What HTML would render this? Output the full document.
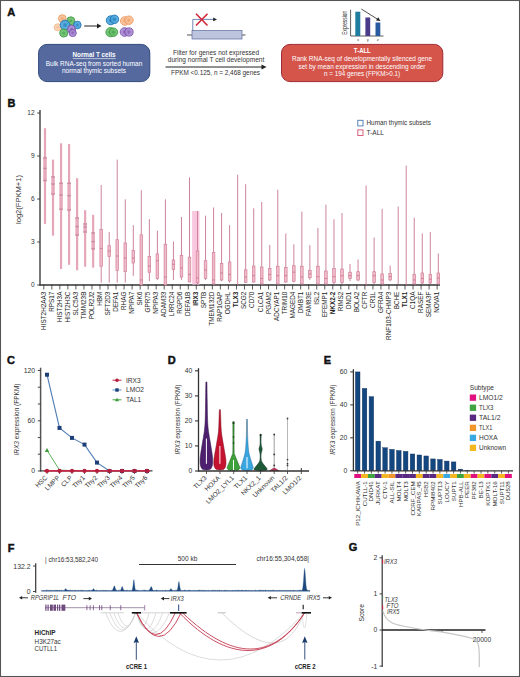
<!DOCTYPE html>
<html><head><meta charset="utf-8"><style>html,body{margin:0;padding:0;background:#fff}svg{display:block}</style></head>
<body><svg width="520" height="677" viewBox="0 0 520 677" font-family="Liberation Sans, sans-serif"><g>
<rect x="0.5" y="0.5" width="519" height="676" fill="#fff" stroke="#555" stroke-width="1.1"/>
<text x="7.2" y="16.2" font-size="11" text-anchor="start" fill="#111" font-weight="bold" font-style="normal" stroke="#111" stroke-width="0.45">A</text>
<circle cx="62.3" cy="18.5" r="3.8" fill="#f7bf95" stroke="#ef9a62" stroke-width="1" opacity="0.92"/>
<circle cx="62.3" cy="18.5" r="1.52" fill="#ef9a62" opacity="0.55"/>
<circle cx="57.7" cy="27.3" r="3.5" fill="#fad0b0" stroke="#f2b080" stroke-width="1" opacity="0.85"/>
<circle cx="57.7" cy="27.3" r="1.40" fill="#f2b080" opacity="0.55"/>
<circle cx="70.8" cy="20.8" r="4" fill="#6cc06c" stroke="#3d9a45" stroke-width="1" opacity="0.92"/>
<circle cx="70.8" cy="20.8" r="1.60" fill="#3d9a45" opacity="0.55"/>
<circle cx="77.3" cy="25" r="3.8" fill="#4aa6dc" stroke="#1f74b5" stroke-width="1" opacity="0.92"/>
<circle cx="77.3" cy="25" r="1.52" fill="#1f74b5" opacity="0.55"/>
<circle cx="65" cy="25" r="4.8" fill="#4aa6dc" stroke="#1f74b5" stroke-width="1" opacity="0.92"/>
<circle cx="65" cy="25" r="1.92" fill="#1f74b5" opacity="0.55"/>
<circle cx="63.8" cy="33" r="4" fill="#6cc06c" stroke="#3d9a45" stroke-width="1" opacity="0.92"/>
<circle cx="63.8" cy="33" r="1.60" fill="#3d9a45" opacity="0.55"/>
<circle cx="71.5" cy="29.2" r="4" fill="#a98ad0" stroke="#7a52b0" stroke-width="1" opacity="0.92"/>
<circle cx="71.5" cy="29.2" r="1.60" fill="#7a52b0" opacity="0.55"/>
<circle cx="72.7" cy="33" r="3.6" fill="#a98ad0" stroke="#7a52b0" stroke-width="1" opacity="0.92"/>
<circle cx="72.7" cy="33" r="1.44" fill="#7a52b0" opacity="0.55"/>
<line x1="84.2" y1="26" x2="99" y2="26" stroke="#222" stroke-width="1"/>
<path d="M101.5 26 L97 23.6 L97 28.4 Z" fill="#222"/>
<circle cx="110.8" cy="20.3" r="4.5" fill="#4aa6dc" stroke="#1f74b5" stroke-width="1" opacity="0.92"/>
<circle cx="110.8" cy="20.3" r="1.80" fill="#1f74b5" opacity="0.55"/>
<circle cx="114.5" cy="19.3" r="4.2" fill="#4aa6dc" stroke="#1f74b5" stroke-width="1" opacity="0.92"/>
<circle cx="114.5" cy="19.3" r="1.68" fill="#1f74b5" opacity="0.55"/>
<circle cx="124.8" cy="21" r="4.3" fill="#f7bf95" stroke="#ef9a62" stroke-width="1" opacity="0.92"/>
<circle cx="124.8" cy="21" r="1.72" fill="#ef9a62" opacity="0.55"/>
<circle cx="129" cy="20.2" r="4.2" fill="#f7bf95" stroke="#ef9a62" stroke-width="1" opacity="0.92"/>
<circle cx="129" cy="20.2" r="1.68" fill="#ef9a62" opacity="0.55"/>
<circle cx="110.5" cy="32.2" r="4.6" fill="#6cc06c" stroke="#3d9a45" stroke-width="1" opacity="0.92"/>
<circle cx="110.5" cy="32.2" r="1.84" fill="#3d9a45" opacity="0.55"/>
<circle cx="113.5" cy="32.2" r="4.2" fill="#6cc06c" stroke="#3d9a45" stroke-width="1" opacity="0.92"/>
<circle cx="113.5" cy="32.2" r="1.68" fill="#3d9a45" opacity="0.55"/>
<circle cx="124.5" cy="32" r="4.3" fill="#a98ad0" stroke="#7a52b0" stroke-width="1" opacity="0.92"/>
<circle cx="124.5" cy="32" r="1.72" fill="#7a52b0" opacity="0.55"/>
<circle cx="129" cy="32" r="4.1" fill="#a98ad0" stroke="#7a52b0" stroke-width="1" opacity="0.92"/>
<circle cx="129" cy="32" r="1.64" fill="#7a52b0" opacity="0.55"/>
<rect x="38.6" y="44.4" width="111.2" height="37.2" rx="8.5" fill="#55699f" stroke="#2f4a7c" stroke-width="1"/>
<text x="94" y="57.4" font-size="6.8" text-anchor="middle" fill="#fff" font-weight="bold" font-style="normal" textLength="43" lengthAdjust="spacingAndGlyphs">Normal T cells</text>
<line x1="72.8" y1="58.6" x2="115.8" y2="58.6" stroke="#fff" stroke-width="0.6"/>
<text x="94" y="65.5" font-size="6.6" text-anchor="middle" fill="#fff" font-weight="normal" font-style="normal" textLength="96.5" lengthAdjust="spacingAndGlyphs">Bulk RNA-seq from sorted human</text>
<text x="94" y="72.9" font-size="6.6" text-anchor="middle" fill="#fff" font-weight="normal" font-style="normal" textLength="64" lengthAdjust="spacingAndGlyphs">normal thymic subsets</text>
<line x1="187" y1="35" x2="245.5" y2="35" stroke="#555" stroke-width="1"/>
<rect x="192" y="30.6" width="50" height="8.4" fill="#bcc4de" stroke="#5a6a9a" stroke-width="0.7"/>
<polyline points="192.8,30.5 192.8,19.4 214,19.4" fill="none" stroke="#4a6aa0" stroke-width="0.8"/>
<path d="M217 19.4 L213.2 17.6 L213.2 21.2 Z" fill="#222"/>
<path d="M196 13.8 L207.5 25.5 M207.5 13.8 L196 25.5" stroke="#d0283a" stroke-width="1.6"/>
<text x="216" y="54.6" font-size="6.4" text-anchor="middle" fill="#333" font-weight="normal" font-style="normal" textLength="86" lengthAdjust="spacingAndGlyphs">Filter for genes not expressed</text>
<text x="216" y="62.2" font-size="6.4" text-anchor="middle" fill="#333" font-weight="normal" font-style="normal" textLength="96.5" lengthAdjust="spacingAndGlyphs">during normal T cell development</text>
<line x1="165.5" y1="67" x2="263" y2="67" stroke="#222" stroke-width="1"/>
<path d="M266.5 67 L261.5 64.6 L261.5 69.4 Z" fill="#222"/>
<text x="215.5" y="75.2" font-size="6.4" text-anchor="middle" fill="#333" font-weight="normal" font-style="normal" textLength="89" lengthAdjust="spacingAndGlyphs">FPKM &lt;0.125, n = 2,468 genes</text>
<text x="346.9" y="22.8" font-size="7" text-anchor="middle" fill="#333" font-weight="normal" font-style="normal" textLength="23.8" lengthAdjust="spacingAndGlyphs" transform="rotate(-90 346.9 22.8)">Expression</text>
<polyline points="350.6,9.7 350.6,36 383.5,36" fill="none" stroke="#333" stroke-width="0.8"/>
<rect x="355.3" y="11.7" width="5" height="24.3" fill="#1f7ea0"/>
<rect x="365.4" y="17.5" width="4.8" height="18.5" fill="#4a3a8a"/>
<rect x="375.5" y="22.5" width="4.8" height="13.5" fill="#2a5aa0"/>
<line x1="361.3" y1="9" x2="378" y2="19.5" stroke="#222" stroke-width="0.8"/>
<path d="M380.5 21 L376 20.4 L378.2 17.2 Z" fill="#222"/>
<text x="358" y="41.2" font-size="4.2" text-anchor="middle" fill="#444" font-weight="normal" font-style="normal">x</text>
<text x="367.7" y="41.2" font-size="4.2" text-anchor="middle" fill="#444" font-weight="normal" font-style="normal">y</text>
<text x="377.8" y="41.2" font-size="4.2" text-anchor="middle" fill="#444" font-weight="normal" font-style="normal">z</text>
<rect x="281.5" y="44.4" width="161.3" height="37.2" rx="8.5" fill="#d5554b" stroke="#9e2c36" stroke-width="1"/>
<text x="362.3" y="53.3" font-size="6.8" text-anchor="middle" fill="#fff" font-weight="bold" font-style="normal" textLength="17" lengthAdjust="spacingAndGlyphs">T-ALL</text>
<text x="362" y="61.4" font-size="6.6" text-anchor="middle" fill="#fff" font-weight="normal" font-style="normal" textLength="140" lengthAdjust="spacingAndGlyphs">Rank RNA-seq of developmentally silenced gene</text>
<text x="362" y="68.8" font-size="6.6" text-anchor="middle" fill="#fff" font-weight="normal" font-style="normal" textLength="127" lengthAdjust="spacingAndGlyphs">set by mean expression in descending order</text>
<text x="362" y="75.8" font-size="6.6" text-anchor="middle" fill="#fff" font-weight="normal" font-style="normal" textLength="76" lengthAdjust="spacingAndGlyphs">n = 194 genes (FPKM&gt;0.1)</text>
<text x="7.5" y="107.2" font-size="11" text-anchor="start" fill="#111" font-weight="bold" font-style="normal" stroke="#111" stroke-width="0.45">B</text>
<line x1="40" y1="110" x2="40" y2="285.6" stroke="#555" stroke-width="1.6"/>
<line x1="37.2" y1="285.0" x2="40" y2="285.0" stroke="#333" stroke-width="0.9"/>
<text x="34.6" y="287.3" font-size="6.6" text-anchor="end" fill="#333" font-weight="normal" font-style="normal">0</text>
<line x1="37.2" y1="242.0" x2="40" y2="242.0" stroke="#333" stroke-width="0.9"/>
<text x="34.6" y="244.30100000000002" font-size="6.6" text-anchor="end" fill="#333" font-weight="normal" font-style="normal">3</text>
<line x1="37.2" y1="199.0" x2="40" y2="199.0" stroke="#333" stroke-width="0.9"/>
<text x="34.6" y="201.30200000000002" font-size="6.6" text-anchor="end" fill="#333" font-weight="normal" font-style="normal">6</text>
<line x1="37.2" y1="156.0" x2="40" y2="156.0" stroke="#333" stroke-width="0.9"/>
<text x="34.6" y="158.303" font-size="6.6" text-anchor="end" fill="#333" font-weight="normal" font-style="normal">9</text>
<line x1="37.2" y1="113.0" x2="40" y2="113.0" stroke="#333" stroke-width="0.9"/>
<text x="34.6" y="115.30399999999999" font-size="6.6" text-anchor="end" fill="#333" font-weight="normal" font-style="normal">12</text>
<text x="21.2" y="199.5" font-size="7.2" text-anchor="middle" fill="#333" font-weight="normal" font-style="normal" textLength="49" lengthAdjust="spacingAndGlyphs" transform="rotate(-90 21.2 199.5)">log2(FPKM+1)</text>
<line x1="39.5" y1="285" x2="440" y2="285" stroke="#333" stroke-width="1.3"/>
<rect x="192.1" y="211" width="7.4" height="73.5" fill="#f9c8df"/>
<line x1="43.80" y1="284.5" x2="43.80" y2="289.5" stroke="#333" stroke-width="0.8"/>
<line x1="45.00" y1="128.2" x2="45.00" y2="223.9" stroke="#e6a6b8" stroke-width="2.2"/>
<rect x="43.30" y="156.9" width="3.4" height="24.6" fill="#e6a9bb"/>
<rect x="43.30" y="157.2" width="3.4" height="1.4" fill="#c98aa0"/>
<rect x="43.30" y="167.7" width="3.4" height="1.4" fill="#c98aa0"/>
<rect x="43.30" y="179.8" width="3.4" height="1.4" fill="#c98aa0"/>
<text x="45.80" y="291.6" font-size="6.4" text-anchor="end" fill="#222" font-weight="normal" font-style="normal" transform="rotate(-90 45.80 291.6)">HIST2H2AA3</text>
<line x1="51.83" y1="284.5" x2="51.83" y2="289.5" stroke="#333" stroke-width="0.8"/>
<line x1="53.03" y1="159.6" x2="53.03" y2="235.6" stroke="#e6a6b8" stroke-width="2.2"/>
<rect x="51.33" y="176" width="3.4" height="19.0" fill="#e6a9bb"/>
<rect x="51.33" y="176.3" width="3.4" height="1.4" fill="#c98aa0"/>
<rect x="51.33" y="183.3" width="3.4" height="1.4" fill="#c98aa0"/>
<rect x="51.33" y="193.3" width="3.4" height="1.4" fill="#c98aa0"/>
<text x="53.83" y="291.6" font-size="6.4" text-anchor="end" fill="#222" font-weight="normal" font-style="normal" transform="rotate(-90 53.83 291.6)">RPS17</text>
<line x1="59.85" y1="284.5" x2="59.85" y2="289.5" stroke="#333" stroke-width="0.8"/>
<line x1="61.05" y1="143.3" x2="61.05" y2="269" stroke="#e6a6b8" stroke-width="2.2"/>
<rect x="59.35" y="182.3" width="3.4" height="27.9" fill="#e6a9bb"/>
<rect x="59.35" y="182.6" width="3.4" height="1.4" fill="#c98aa0"/>
<rect x="59.35" y="194.3" width="3.4" height="1.4" fill="#c98aa0"/>
<rect x="59.35" y="208.5" width="3.4" height="1.4" fill="#c98aa0"/>
<text x="61.85" y="291.6" font-size="6.4" text-anchor="end" fill="#222" font-weight="normal" font-style="normal" transform="rotate(-90 61.85 291.6)">HIST2H3A</text>
<line x1="67.88" y1="284.5" x2="67.88" y2="289.5" stroke="#333" stroke-width="0.8"/>
<line x1="69.08" y1="144" x2="69.08" y2="264.8" stroke="#e6a6b8" stroke-width="2.2"/>
<rect x="67.38" y="182.3" width="3.4" height="28.7" fill="#e6a9bb"/>
<rect x="67.38" y="182.6" width="3.4" height="1.4" fill="#c98aa0"/>
<rect x="67.38" y="195.0" width="3.4" height="1.4" fill="#c98aa0"/>
<rect x="67.38" y="209.3" width="3.4" height="1.4" fill="#c98aa0"/>
<text x="69.88" y="291.6" font-size="6.4" text-anchor="end" fill="#222" font-weight="normal" font-style="normal" transform="rotate(-90 69.88 291.6)">HIST2H3C</text>
<line x1="75.91" y1="284.5" x2="75.91" y2="289.5" stroke="#333" stroke-width="0.8"/>
<line x1="77.11" y1="178.2" x2="77.11" y2="270.3" stroke="#e6a6b8" stroke-width="2.2"/>
<rect x="75.41" y="217" width="3.4" height="19.0" fill="#e6a9bb"/>
<rect x="75.41" y="217.3" width="3.4" height="1.4" fill="#c98aa0"/>
<rect x="75.41" y="225.9" width="3.4" height="1.4" fill="#c98aa0"/>
<rect x="75.41" y="234.3" width="3.4" height="1.4" fill="#c98aa0"/>
<text x="77.91" y="291.6" font-size="6.4" text-anchor="end" fill="#222" font-weight="normal" font-style="normal" transform="rotate(-90 77.91 291.6)">SLC5A3</text>
<line x1="83.94" y1="284.5" x2="83.94" y2="289.5" stroke="#333" stroke-width="0.8"/>
<line x1="85.14" y1="210.2" x2="85.14" y2="266.7" stroke="#e6a6b8" stroke-width="2.2"/>
<rect x="83.44" y="223" width="3.4" height="9.9" fill="#e6a9bb"/>
<rect x="83.44" y="223.3" width="3.4" height="1.4" fill="#c98aa0"/>
<rect x="83.44" y="226.3" width="3.4" height="1.4" fill="#c98aa0"/>
<rect x="83.44" y="231.2" width="3.4" height="1.4" fill="#c98aa0"/>
<text x="85.94" y="291.6" font-size="6.4" text-anchor="end" fill="#222" font-weight="normal" font-style="normal" transform="rotate(-90 85.94 291.6)">TIMM23B</text>
<line x1="91.96" y1="284.5" x2="91.96" y2="289.5" stroke="#333" stroke-width="0.8"/>
<line x1="93.16" y1="214.8" x2="93.16" y2="267.6" stroke="#e6a6b8" stroke-width="2.2"/>
<rect x="91.46" y="232" width="3.4" height="17.8" fill="#e6a9bb"/>
<rect x="91.46" y="232.3" width="3.4" height="1.4" fill="#c98aa0"/>
<rect x="91.46" y="240.9" width="3.4" height="1.4" fill="#c98aa0"/>
<rect x="91.46" y="248.1" width="3.4" height="1.4" fill="#c98aa0"/>
<text x="93.96" y="291.6" font-size="6.4" text-anchor="end" fill="#222" font-weight="normal" font-style="normal" transform="rotate(-90 93.96 291.6)">POLR2J2</text>
<line x1="99.99" y1="284.5" x2="99.99" y2="289.5" stroke="#333" stroke-width="0.8"/>
<line x1="101.19" y1="185" x2="101.19" y2="282.6" stroke="#c97d99" stroke-width="0.95"/>
<rect x="99.89" y="229.3" width="2.6" height="36.9" fill="#f0bccb" stroke="#d27f97" stroke-width="0.7"/>
<line x1="99.89" y1="248.4" x2="102.49" y2="248.4" stroke="#c8708a" stroke-width="0.8"/>
<text x="101.99" y="291.6" font-size="6.4" text-anchor="end" fill="#222" font-weight="normal" font-style="normal" transform="rotate(-90 101.99 291.6)">HBM</text>
<line x1="108.02" y1="284.5" x2="108.02" y2="289.5" stroke="#333" stroke-width="0.8"/>
<line x1="109.22" y1="232" x2="109.22" y2="282.6" stroke="#c97d99" stroke-width="0.95"/>
<rect x="107.92" y="245.7" width="2.6" height="10.9" fill="#f0bccb" stroke="#d27f97" stroke-width="0.7"/>
<line x1="107.92" y1="251" x2="110.52" y2="251" stroke="#c8708a" stroke-width="0.8"/>
<text x="110.02" y="291.6" font-size="6.4" text-anchor="end" fill="#222" font-weight="normal" font-style="normal" transform="rotate(-90 110.02 291.6)">SFT2D3</text>
<line x1="116.04" y1="284.5" x2="116.04" y2="289.5" stroke="#333" stroke-width="0.8"/>
<line x1="117.24" y1="159.6" x2="117.24" y2="282.6" stroke="#c97d99" stroke-width="0.95"/>
<rect x="115.94" y="239.7" width="2.6" height="30.6" fill="#f0bccb" stroke="#d27f97" stroke-width="0.7"/>
<line x1="115.94" y1="256" x2="118.54" y2="256" stroke="#c8708a" stroke-width="0.8"/>
<text x="118.04" y="291.6" font-size="6.4" text-anchor="end" fill="#222" font-weight="normal" font-style="normal" transform="rotate(-90 118.04 291.6)">DEFA1</text>
<line x1="124.07" y1="284.5" x2="124.07" y2="289.5" stroke="#333" stroke-width="0.8"/>
<line x1="125.27" y1="199.3" x2="125.27" y2="282.6" stroke="#c97d99" stroke-width="0.95"/>
<rect x="123.97" y="243" width="2.6" height="28.7" fill="#f0bccb" stroke="#d27f97" stroke-width="0.7"/>
<line x1="123.97" y1="258" x2="126.57" y2="258" stroke="#c8708a" stroke-width="0.8"/>
<text x="126.07" y="291.6" font-size="6.4" text-anchor="end" fill="#222" font-weight="normal" font-style="normal" transform="rotate(-90 126.07 291.6)">RHAG</text>
<line x1="132.10" y1="284.5" x2="132.10" y2="289.5" stroke="#333" stroke-width="0.8"/>
<line x1="133.30" y1="225.2" x2="133.30" y2="275.8" stroke="#c97d99" stroke-width="0.95"/>
<rect x="132.00" y="250.6" width="2.6" height="12.4" fill="#f0bccb" stroke="#d27f97" stroke-width="0.7"/>
<line x1="132.00" y1="258" x2="134.60" y2="258" stroke="#c8708a" stroke-width="0.8"/>
<text x="134.10" y="291.6" font-size="6.4" text-anchor="end" fill="#222" font-weight="normal" font-style="normal" transform="rotate(-90 134.10 291.6)">NPIPA7</text>
<line x1="140.12" y1="284.5" x2="140.12" y2="289.5" stroke="#333" stroke-width="0.8"/>
<line x1="141.32" y1="190.2" x2="141.32" y2="285" stroke="#c97d99" stroke-width="0.95"/>
<rect x="140.02" y="234.8" width="2.6" height="50.2" fill="#f0bccb" stroke="#d27f97" stroke-width="0.7"/>
<line x1="140.02" y1="280" x2="142.62" y2="280" stroke="#c8708a" stroke-width="0.8"/>
<text x="142.12" y="291.6" font-size="6.4" text-anchor="end" fill="#222" font-weight="normal" font-style="normal" transform="rotate(-90 142.12 291.6)">SIK6</text>
<line x1="148.15" y1="284.5" x2="148.15" y2="289.5" stroke="#333" stroke-width="0.8"/>
<line x1="149.35" y1="219.2" x2="149.35" y2="281.2" stroke="#c97d99" stroke-width="0.95"/>
<rect x="148.05" y="256.6" width="2.6" height="15.6" fill="#f0bccb" stroke="#d27f97" stroke-width="0.7"/>
<line x1="148.05" y1="266" x2="150.65" y2="266" stroke="#c8708a" stroke-width="0.8"/>
<text x="150.15" y="291.6" font-size="6.4" text-anchor="end" fill="#222" font-weight="normal" font-style="normal" transform="rotate(-90 150.15 291.6)">GPR75</text>
<line x1="156.18" y1="284.5" x2="156.18" y2="289.5" stroke="#333" stroke-width="0.8"/>
<line x1="157.38" y1="230.7" x2="157.38" y2="279.9" stroke="#c97d99" stroke-width="0.95"/>
<rect x="156.08" y="253.9" width="2.6" height="24.6" fill="#f0bccb" stroke="#d27f97" stroke-width="0.7"/>
<line x1="156.08" y1="260.7" x2="158.68" y2="260.7" stroke="#c8708a" stroke-width="0.8"/>
<text x="158.18" y="291.6" font-size="6.4" text-anchor="end" fill="#222" font-weight="normal" font-style="normal" transform="rotate(-90 158.18 291.6)">NPIPA3</text>
<line x1="164.20" y1="284.5" x2="164.20" y2="289.5" stroke="#333" stroke-width="0.8"/>
<line x1="165.41" y1="199.3" x2="165.41" y2="285" stroke="#c97d99" stroke-width="0.95"/>
<rect x="164.10" y="244.3" width="2.6" height="40.7" fill="#f0bccb" stroke="#d27f97" stroke-width="0.7"/>
<line x1="164.10" y1="277" x2="166.71" y2="277" stroke="#c8708a" stroke-width="0.8"/>
<text x="166.20" y="291.6" font-size="6.4" text-anchor="end" fill="#222" font-weight="normal" font-style="normal" transform="rotate(-90 166.20 291.6)">ADAM33</text>
<line x1="172.23" y1="284.5" x2="172.23" y2="289.5" stroke="#333" stroke-width="0.8"/>
<line x1="173.43" y1="241.6" x2="173.43" y2="279.9" stroke="#c97d99" stroke-width="0.95"/>
<rect x="172.13" y="260" width="2.6" height="9.5" fill="#f0bccb" stroke="#d27f97" stroke-width="0.7"/>
<line x1="172.13" y1="264.3" x2="174.73" y2="264.3" stroke="#c8708a" stroke-width="0.8"/>
<text x="174.23" y="291.6" font-size="6.4" text-anchor="end" fill="#222" font-weight="normal" font-style="normal" transform="rotate(-90 174.23 291.6)">LRRC24</text>
<line x1="180.26" y1="284.5" x2="180.26" y2="289.5" stroke="#333" stroke-width="0.8"/>
<line x1="181.46" y1="217" x2="181.46" y2="279.9" stroke="#c97d99" stroke-width="0.95"/>
<rect x="180.16" y="255.3" width="2.6" height="21.7" fill="#f0bccb" stroke="#d27f97" stroke-width="0.7"/>
<line x1="180.16" y1="268" x2="182.76" y2="268" stroke="#c8708a" stroke-width="0.8"/>
<text x="182.26" y="291.6" font-size="6.4" text-anchor="end" fill="#222" font-weight="normal" font-style="normal" transform="rotate(-90 182.26 291.6)">RGPD6</text>
<line x1="188.29" y1="284.5" x2="188.29" y2="289.5" stroke="#333" stroke-width="0.8"/>
<line x1="189.49" y1="177.4" x2="189.49" y2="281.2" stroke="#c97d99" stroke-width="0.95"/>
<rect x="188.19" y="257.2" width="2.6" height="24.8" fill="#f0bccb" stroke="#d27f97" stroke-width="0.7"/>
<line x1="188.19" y1="274.4" x2="190.79" y2="274.4" stroke="#c8708a" stroke-width="0.8"/>
<text x="190.29" y="291.6" font-size="6.4" text-anchor="end" fill="#222" font-weight="normal" font-style="normal" transform="rotate(-90 190.29 291.6)">DEFA1B</text>
<line x1="196.31" y1="284.5" x2="196.31" y2="289.5" stroke="#333" stroke-width="0.8"/>
<line x1="197.51" y1="211" x2="197.51" y2="284" stroke="#c97d99" stroke-width="0.95"/>
<rect x="196.21" y="251" width="2.6" height="31.6" fill="#f0bccb" stroke="#d27f97" stroke-width="0.7"/>
<line x1="196.21" y1="278" x2="198.81" y2="278" stroke="#c8708a" stroke-width="0.8"/>
<text x="198.31" y="291.6" font-size="6.4" text-anchor="end" fill="#222" font-weight="bold" font-style="normal" transform="rotate(-90 198.31 291.6)">IRX3</text>
<line x1="204.34" y1="284.5" x2="204.34" y2="289.5" stroke="#333" stroke-width="0.8"/>
<line x1="205.54" y1="215.7" x2="205.54" y2="279.9" stroke="#c97d99" stroke-width="0.95"/>
<rect x="204.24" y="260.7" width="2.6" height="17.8" fill="#f0bccb" stroke="#d27f97" stroke-width="0.7"/>
<line x1="204.24" y1="270" x2="206.84" y2="270" stroke="#c8708a" stroke-width="0.8"/>
<text x="206.34" y="291.6" font-size="6.4" text-anchor="end" fill="#222" font-weight="normal" font-style="normal" transform="rotate(-90 206.34 291.6)">SPTB</text>
<line x1="212.37" y1="284.5" x2="212.37" y2="289.5" stroke="#333" stroke-width="0.8"/>
<line x1="213.57" y1="207.5" x2="213.57" y2="285" stroke="#c97d99" stroke-width="0.95"/>
<rect x="212.27" y="252.5" width="2.6" height="31.5" fill="#f0bccb" stroke="#d27f97" stroke-width="0.7"/>
<line x1="212.27" y1="280" x2="214.87" y2="280" stroke="#c8708a" stroke-width="0.8"/>
<text x="214.37" y="291.6" font-size="6.4" text-anchor="end" fill="#222" font-weight="normal" font-style="normal" transform="rotate(-90 214.37 291.6)">TMEM132D</text>
<line x1="220.39" y1="284.5" x2="220.39" y2="289.5" stroke="#333" stroke-width="0.8"/>
<line x1="221.59" y1="213" x2="221.59" y2="281.2" stroke="#c97d99" stroke-width="0.95"/>
<rect x="220.29" y="263.5" width="2.6" height="16.5" fill="#f0bccb" stroke="#d27f97" stroke-width="0.7"/>
<line x1="220.29" y1="273" x2="222.89" y2="273" stroke="#c8708a" stroke-width="0.8"/>
<text x="222.39" y="291.6" font-size="6.4" text-anchor="end" fill="#222" font-weight="normal" font-style="normal" transform="rotate(-90 222.39 291.6)">RAP1GAP</text>
<line x1="228.42" y1="284.5" x2="228.42" y2="289.5" stroke="#333" stroke-width="0.8"/>
<line x1="229.62" y1="225.2" x2="229.62" y2="282.6" stroke="#c97d99" stroke-width="0.95"/>
<rect x="228.32" y="262" width="2.6" height="19.0" fill="#f0bccb" stroke="#d27f97" stroke-width="0.7"/>
<line x1="228.32" y1="274.4" x2="230.92" y2="274.4" stroke="#c8708a" stroke-width="0.8"/>
<text x="230.42" y="291.6" font-size="6.4" text-anchor="end" fill="#222" font-weight="normal" font-style="normal" transform="rotate(-90 230.42 291.6)">OGDHL</text>
<line x1="236.45" y1="284.5" x2="236.45" y2="289.5" stroke="#333" stroke-width="0.8"/>
<line x1="237.65" y1="174.7" x2="237.65" y2="285" stroke="#c97d99" stroke-width="0.95"/>
<text x="238.45" y="291.6" font-size="6.4" text-anchor="end" fill="#222" font-weight="bold" font-style="normal" transform="rotate(-90 238.45 291.6)">TLX3</text>
<line x1="244.47" y1="284.5" x2="244.47" y2="289.5" stroke="#333" stroke-width="0.8"/>
<line x1="245.67" y1="184.2" x2="245.67" y2="282.6" stroke="#c97d99" stroke-width="0.95"/>
<rect x="244.37" y="269.8" width="2.6" height="12.8" fill="#f0bccb" stroke="#d27f97" stroke-width="0.7"/>
<line x1="244.37" y1="277" x2="246.97" y2="277" stroke="#c8708a" stroke-width="0.8"/>
<text x="246.47" y="291.6" font-size="6.4" text-anchor="end" fill="#222" font-weight="normal" font-style="normal" transform="rotate(-90 246.47 291.6)">SCG2</text>
<line x1="252.50" y1="284.5" x2="252.50" y2="289.5" stroke="#333" stroke-width="0.8"/>
<line x1="253.70" y1="208.3" x2="253.70" y2="282.6" stroke="#c97d99" stroke-width="0.95"/>
<rect x="252.40" y="266" width="2.6" height="16.0" fill="#f0bccb" stroke="#d27f97" stroke-width="0.7"/>
<line x1="252.40" y1="275.7" x2="255.00" y2="275.7" stroke="#c8708a" stroke-width="0.8"/>
<text x="254.50" y="291.6" font-size="6.4" text-anchor="end" fill="#222" font-weight="normal" font-style="normal" transform="rotate(-90 254.50 291.6)">CD70</text>
<line x1="260.53" y1="284.5" x2="260.53" y2="289.5" stroke="#333" stroke-width="0.8"/>
<line x1="261.73" y1="202" x2="261.73" y2="284" stroke="#c97d99" stroke-width="0.95"/>
<rect x="260.43" y="267" width="2.6" height="17.0" fill="#f0bccb" stroke="#d27f97" stroke-width="0.7"/>
<line x1="260.43" y1="278.5" x2="263.03" y2="278.5" stroke="#c8708a" stroke-width="0.8"/>
<text x="262.53" y="291.6" font-size="6.4" text-anchor="end" fill="#222" font-weight="normal" font-style="normal" transform="rotate(-90 262.53 291.6)">CLCA1</text>
<line x1="268.56" y1="284.5" x2="268.56" y2="289.5" stroke="#333" stroke-width="0.8"/>
<line x1="269.76" y1="244.9" x2="269.76" y2="281.2" stroke="#c97d99" stroke-width="0.95"/>
<rect x="268.46" y="268.4" width="2.6" height="11.6" fill="#f0bccb" stroke="#d27f97" stroke-width="0.7"/>
<line x1="268.46" y1="274.4" x2="271.06" y2="274.4" stroke="#c8708a" stroke-width="0.8"/>
<text x="270.56" y="291.6" font-size="6.4" text-anchor="end" fill="#222" font-weight="normal" font-style="normal" transform="rotate(-90 270.56 291.6)">PGAM2</text>
<line x1="276.58" y1="284.5" x2="276.58" y2="289.5" stroke="#333" stroke-width="0.8"/>
<line x1="277.78" y1="189.7" x2="277.78" y2="284" stroke="#c97d99" stroke-width="0.95"/>
<rect x="276.48" y="266.2" width="2.6" height="17.8" fill="#f0bccb" stroke="#d27f97" stroke-width="0.7"/>
<line x1="276.48" y1="275.7" x2="279.08" y2="275.7" stroke="#c8708a" stroke-width="0.8"/>
<text x="278.58" y="291.6" font-size="6.4" text-anchor="end" fill="#222" font-weight="normal" font-style="normal" transform="rotate(-90 278.58 291.6)">ADCYAP1</text>
<line x1="284.61" y1="284.5" x2="284.61" y2="289.5" stroke="#333" stroke-width="0.8"/>
<line x1="285.81" y1="233.4" x2="285.81" y2="282.6" stroke="#c97d99" stroke-width="0.95"/>
<rect x="284.51" y="267.6" width="2.6" height="14.4" fill="#f0bccb" stroke="#d27f97" stroke-width="0.7"/>
<line x1="284.51" y1="275.7" x2="287.11" y2="275.7" stroke="#c8708a" stroke-width="0.8"/>
<text x="286.61" y="291.6" font-size="6.4" text-anchor="end" fill="#222" font-weight="normal" font-style="normal" transform="rotate(-90 286.61 291.6)">TRIM10</text>
<line x1="292.64" y1="284.5" x2="292.64" y2="289.5" stroke="#333" stroke-width="0.8"/>
<line x1="293.84" y1="244.3" x2="293.84" y2="282.6" stroke="#c97d99" stroke-width="0.95"/>
<rect x="292.54" y="265.7" width="2.6" height="15.5" fill="#f0bccb" stroke="#d27f97" stroke-width="0.7"/>
<line x1="292.54" y1="272.2" x2="295.14" y2="272.2" stroke="#c8708a" stroke-width="0.8"/>
<text x="294.64" y="291.6" font-size="6.4" text-anchor="end" fill="#222" font-weight="normal" font-style="normal" transform="rotate(-90 294.64 291.6)">MAGED4</text>
<line x1="300.66" y1="284.5" x2="300.66" y2="289.5" stroke="#333" stroke-width="0.8"/>
<line x1="301.86" y1="211.6" x2="301.86" y2="284" stroke="#c97d99" stroke-width="0.95"/>
<rect x="300.56" y="266.2" width="2.6" height="17.8" fill="#f0bccb" stroke="#d27f97" stroke-width="0.7"/>
<line x1="300.56" y1="277" x2="303.16" y2="277" stroke="#c8708a" stroke-width="0.8"/>
<text x="302.66" y="291.6" font-size="6.4" text-anchor="end" fill="#222" font-weight="normal" font-style="normal" transform="rotate(-90 302.66 291.6)">DMBT1</text>
<line x1="308.69" y1="284.5" x2="308.69" y2="289.5" stroke="#333" stroke-width="0.8"/>
<line x1="309.89" y1="245.2" x2="309.89" y2="279.9" stroke="#c97d99" stroke-width="0.95"/>
<rect x="308.59" y="270.3" width="2.6" height="7.4" fill="#f0bccb" stroke="#d27f97" stroke-width="0.7"/>
<line x1="308.59" y1="273.9" x2="311.19" y2="273.9" stroke="#c8708a" stroke-width="0.8"/>
<text x="310.69" y="291.6" font-size="6.4" text-anchor="end" fill="#222" font-weight="normal" font-style="normal" transform="rotate(-90 310.69 291.6)">FAM83E</text>
<line x1="316.72" y1="284.5" x2="316.72" y2="289.5" stroke="#333" stroke-width="0.8"/>
<line x1="317.92" y1="228" x2="317.92" y2="284" stroke="#c97d99" stroke-width="0.95"/>
<rect x="316.62" y="266.2" width="2.6" height="17.8" fill="#f0bccb" stroke="#d27f97" stroke-width="0.7"/>
<line x1="316.62" y1="276.6" x2="319.22" y2="276.6" stroke="#c8708a" stroke-width="0.8"/>
<text x="318.72" y="291.6" font-size="6.4" text-anchor="end" fill="#222" font-weight="normal" font-style="normal" transform="rotate(-90 318.72 291.6)">ISL2</text>
<line x1="324.75" y1="284.5" x2="324.75" y2="289.5" stroke="#333" stroke-width="0.8"/>
<line x1="325.94" y1="204.7" x2="325.94" y2="284" stroke="#c97d99" stroke-width="0.95"/>
<rect x="324.64" y="271" width="2.6" height="13.0" fill="#f0bccb" stroke="#d27f97" stroke-width="0.7"/>
<line x1="324.64" y1="278.5" x2="327.25" y2="278.5" stroke="#c8708a" stroke-width="0.8"/>
<text x="326.75" y="291.6" font-size="6.4" text-anchor="end" fill="#222" font-weight="normal" font-style="normal" transform="rotate(-90 326.75 291.6)">EFEMP1</text>
<line x1="332.77" y1="284.5" x2="332.77" y2="289.5" stroke="#333" stroke-width="0.8"/>
<line x1="333.97" y1="219.2" x2="333.97" y2="284" stroke="#c97d99" stroke-width="0.95"/>
<rect x="332.67" y="268.4" width="2.6" height="14.2" fill="#f0bccb" stroke="#d27f97" stroke-width="0.7"/>
<line x1="332.67" y1="276.6" x2="335.27" y2="276.6" stroke="#c8708a" stroke-width="0.8"/>
<text x="334.77" y="291.6" font-size="6.4" text-anchor="end" fill="#222" font-weight="bold" font-style="normal" transform="rotate(-90 334.77 291.6)">NKX2-2</text>
<line x1="340.80" y1="284.5" x2="340.80" y2="289.5" stroke="#333" stroke-width="0.8"/>
<line x1="342.00" y1="213" x2="342.00" y2="284" stroke="#c97d99" stroke-width="0.95"/>
<rect x="340.70" y="269" width="2.6" height="13.6" fill="#f0bccb" stroke="#d27f97" stroke-width="0.7"/>
<line x1="340.70" y1="275.7" x2="343.30" y2="275.7" stroke="#c8708a" stroke-width="0.8"/>
<text x="342.80" y="291.6" font-size="6.4" text-anchor="end" fill="#222" font-weight="normal" font-style="normal" transform="rotate(-90 342.80 291.6)">RIMS2</text>
<line x1="348.83" y1="284.5" x2="348.83" y2="289.5" stroke="#333" stroke-width="0.8"/>
<line x1="350.03" y1="264" x2="350.03" y2="281.2" stroke="#c97d99" stroke-width="0.95"/>
<rect x="348.73" y="272.2" width="2.6" height="6.3" fill="#f0bccb" stroke="#d27f97" stroke-width="0.7"/>
<line x1="348.73" y1="275.7" x2="351.33" y2="275.7" stroke="#c8708a" stroke-width="0.8"/>
<text x="350.83" y="291.6" font-size="6.4" text-anchor="end" fill="#222" font-weight="normal" font-style="normal" transform="rotate(-90 350.83 291.6)">DND1</text>
<line x1="356.85" y1="284.5" x2="356.85" y2="289.5" stroke="#333" stroke-width="0.8"/>
<line x1="358.05" y1="259.4" x2="358.05" y2="281.2" stroke="#c97d99" stroke-width="0.95"/>
<rect x="356.75" y="271.7" width="2.6" height="8.3" fill="#f0bccb" stroke="#d27f97" stroke-width="0.7"/>
<line x1="356.75" y1="275.7" x2="359.35" y2="275.7" stroke="#c8708a" stroke-width="0.8"/>
<text x="358.85" y="291.6" font-size="6.4" text-anchor="end" fill="#222" font-weight="normal" font-style="normal" transform="rotate(-90 358.85 291.6)">BOLA2</text>
<line x1="364.88" y1="284.5" x2="364.88" y2="289.5" stroke="#333" stroke-width="0.8"/>
<line x1="366.08" y1="185.6" x2="366.08" y2="285" stroke="#c97d99" stroke-width="0.95"/>
<text x="366.88" y="291.6" font-size="6.4" text-anchor="end" fill="#222" font-weight="normal" font-style="normal" transform="rotate(-90 366.88 291.6)">CFTR</text>
<line x1="372.91" y1="284.5" x2="372.91" y2="289.5" stroke="#333" stroke-width="0.8"/>
<line x1="374.11" y1="237.5" x2="374.11" y2="284" stroke="#c97d99" stroke-width="0.95"/>
<rect x="372.81" y="271.7" width="2.6" height="10.9" fill="#f0bccb" stroke="#d27f97" stroke-width="0.7"/>
<line x1="372.81" y1="275.7" x2="375.41" y2="275.7" stroke="#c8708a" stroke-width="0.8"/>
<text x="374.91" y="291.6" font-size="6.4" text-anchor="end" fill="#222" font-weight="normal" font-style="normal" transform="rotate(-90 374.91 291.6)">CR1L</text>
<line x1="380.93" y1="284.5" x2="380.93" y2="289.5" stroke="#333" stroke-width="0.8"/>
<line x1="382.13" y1="208.8" x2="382.13" y2="284" stroke="#c97d99" stroke-width="0.95"/>
<rect x="380.83" y="273.9" width="2.6" height="10.1" fill="#f0bccb" stroke="#d27f97" stroke-width="0.7"/>
<line x1="380.83" y1="280" x2="383.43" y2="280" stroke="#c8708a" stroke-width="0.8"/>
<text x="382.93" y="291.6" font-size="6.4" text-anchor="end" fill="#222" font-weight="normal" font-style="normal" transform="rotate(-90 382.93 291.6)">GFRA4</text>
<line x1="388.96" y1="284.5" x2="388.96" y2="289.5" stroke="#333" stroke-width="0.8"/>
<line x1="390.16" y1="265.7" x2="390.16" y2="281.2" stroke="#c97d99" stroke-width="0.95"/>
<rect x="388.86" y="273.6" width="2.6" height="6.3" fill="#f0bccb" stroke="#d27f97" stroke-width="0.7"/>
<line x1="388.86" y1="276.6" x2="391.46" y2="276.6" stroke="#c8708a" stroke-width="0.8"/>
<text x="390.96" y="291.6" font-size="6.4" text-anchor="end" fill="#222" font-weight="normal" font-style="normal" transform="rotate(-90 390.96 291.6)">RNF103-CHMP3</text>
<line x1="396.99" y1="284.5" x2="396.99" y2="289.5" stroke="#333" stroke-width="0.8"/>
<line x1="398.19" y1="206.6" x2="398.19" y2="284" stroke="#c97d99" stroke-width="0.95"/>
<text x="398.99" y="291.6" font-size="6.4" text-anchor="end" fill="#222" font-weight="normal" font-style="normal" transform="rotate(-90 398.99 291.6)">BCHE</text>
<line x1="405.01" y1="284.5" x2="405.01" y2="289.5" stroke="#333" stroke-width="0.8"/>
<line x1="406.21" y1="165.7" x2="406.21" y2="285" stroke="#c97d99" stroke-width="0.95"/>
<text x="407.01" y="291.6" font-size="6.4" text-anchor="end" fill="#222" font-weight="bold" font-style="normal" transform="rotate(-90 407.01 291.6)">TLX1</text>
<line x1="413.04" y1="284.5" x2="413.04" y2="289.5" stroke="#333" stroke-width="0.8"/>
<line x1="414.24" y1="217.8" x2="414.24" y2="284" stroke="#c97d99" stroke-width="0.95"/>
<rect x="412.94" y="274.4" width="2.6" height="9.6" fill="#f0bccb" stroke="#d27f97" stroke-width="0.7"/>
<line x1="412.94" y1="280" x2="415.54" y2="280" stroke="#c8708a" stroke-width="0.8"/>
<text x="415.04" y="291.6" font-size="6.4" text-anchor="end" fill="#222" font-weight="normal" font-style="normal" transform="rotate(-90 415.04 291.6)">C1QA</text>
<line x1="421.07" y1="284.5" x2="421.07" y2="289.5" stroke="#333" stroke-width="0.8"/>
<line x1="422.27" y1="233.4" x2="422.27" y2="284" stroke="#c97d99" stroke-width="0.95"/>
<rect x="420.97" y="273" width="2.6" height="10.0" fill="#f0bccb" stroke="#d27f97" stroke-width="0.7"/>
<line x1="420.97" y1="278.5" x2="423.57" y2="278.5" stroke="#c8708a" stroke-width="0.8"/>
<text x="423.07" y="291.6" font-size="6.4" text-anchor="end" fill="#222" font-weight="normal" font-style="normal" transform="rotate(-90 423.07 291.6)">RASEF</text>
<line x1="429.10" y1="284.5" x2="429.10" y2="289.5" stroke="#333" stroke-width="0.8"/>
<line x1="430.30" y1="232" x2="430.30" y2="284" stroke="#c97d99" stroke-width="0.95"/>
<rect x="429.00" y="274.4" width="2.6" height="8.6" fill="#f0bccb" stroke="#d27f97" stroke-width="0.7"/>
<line x1="429.00" y1="279.3" x2="431.60" y2="279.3" stroke="#c8708a" stroke-width="0.8"/>
<text x="431.10" y="291.6" font-size="6.4" text-anchor="end" fill="#222" font-weight="normal" font-style="normal" transform="rotate(-90 431.10 291.6)">SEMA3F</text>
<line x1="437.12" y1="284.5" x2="437.12" y2="289.5" stroke="#333" stroke-width="0.8"/>
<line x1="438.32" y1="253.5" x2="438.32" y2="284" stroke="#c97d99" stroke-width="0.95"/>
<rect x="437.02" y="273" width="2.6" height="11.0" fill="#f0bccb" stroke="#d27f97" stroke-width="0.7"/>
<line x1="437.02" y1="278" x2="439.62" y2="278" stroke="#c8708a" stroke-width="0.8"/>
<text x="439.12" y="291.6" font-size="6.4" text-anchor="end" fill="#222" font-weight="normal" font-style="normal" transform="rotate(-90 439.12 291.6)">NOVA1</text>
<rect x="357.8" y="120.3" width="5.2" height="5.6" fill="none" stroke="#4a78b0" stroke-width="0.9"/>
<rect x="357.8" y="129.9" width="5.2" height="5.6" fill="none" stroke="#d0506e" stroke-width="0.9"/>
<text x="366.5" y="125.2" font-size="6.9" text-anchor="start" fill="#333" font-weight="normal" font-style="normal" textLength="64.5" lengthAdjust="spacingAndGlyphs">Human thymic subsets</text>
<text x="366.5" y="134.8" font-size="6.9" text-anchor="start" fill="#333" font-weight="normal" font-style="normal" textLength="17.5" lengthAdjust="spacingAndGlyphs">T-ALL</text>
<text x="7" y="363.8" font-size="11" text-anchor="start" fill="#111" font-weight="bold" font-style="normal" stroke="#111" stroke-width="0.45">C</text>
<line x1="40.6" y1="367.7" x2="40.6" y2="471.5" stroke="#555" stroke-width="1.5"/>
<line x1="37.8" y1="471.0" x2="40.6" y2="471.0" stroke="#333" stroke-width="0.9"/>
<line x1="37.8" y1="454.2" x2="40.6" y2="454.2" stroke="#333" stroke-width="0.9"/>
<line x1="37.8" y1="437.5" x2="40.6" y2="437.5" stroke="#333" stroke-width="0.9"/>
<line x1="37.8" y1="420.8" x2="40.6" y2="420.8" stroke="#333" stroke-width="0.9"/>
<line x1="37.8" y1="404.0" x2="40.6" y2="404.0" stroke="#333" stroke-width="0.9"/>
<line x1="37.8" y1="387.2" x2="40.6" y2="387.2" stroke="#333" stroke-width="0.9"/>
<line x1="37.8" y1="370.5" x2="40.6" y2="370.5" stroke="#333" stroke-width="0.9"/>
<text x="35.1" y="473.4" font-size="6.8" text-anchor="end" fill="#333" font-weight="normal" font-style="normal">0</text>
<text x="35.1" y="423.15" font-size="6.8" text-anchor="end" fill="#333" font-weight="normal" font-style="normal">60</text>
<text x="35.1" y="372.9" font-size="6.8" text-anchor="end" fill="#333" font-weight="normal" font-style="normal">120</text>
<text x="18.6" y="419.5" font-size="6.6" text-anchor="middle" fill="#333" transform="rotate(-90 18.6 419.5)" textLength="72" lengthAdjust="spacingAndGlyphs"><tspan font-style="italic">IRX3</tspan> expression (FPKM)</text>
<line x1="40" y1="470.9" x2="152.5" y2="470.9" stroke="#444" stroke-width="1.2"/>
<line x1="47.0" y1="471" x2="47.0" y2="474" stroke="#333" stroke-width="0.8"/>
<line x1="59.5" y1="471" x2="59.5" y2="474" stroke="#333" stroke-width="0.8"/>
<line x1="72.0" y1="471" x2="72.0" y2="474" stroke="#333" stroke-width="0.8"/>
<line x1="84.5" y1="471" x2="84.5" y2="474" stroke="#333" stroke-width="0.8"/>
<line x1="97.0" y1="471" x2="97.0" y2="474" stroke="#333" stroke-width="0.8"/>
<line x1="109.5" y1="471" x2="109.5" y2="474" stroke="#333" stroke-width="0.8"/>
<line x1="122.0" y1="471" x2="122.0" y2="474" stroke="#333" stroke-width="0.8"/>
<line x1="134.5" y1="471" x2="134.5" y2="474" stroke="#333" stroke-width="0.8"/>
<line x1="147.0" y1="471" x2="147.0" y2="474" stroke="#333" stroke-width="0.8"/>
<text x="47.8" y="478.2" font-size="6.6" text-anchor="end" fill="#333" transform="rotate(-45 47.8 478.2)">HSC</text>
<text x="60.3" y="478.2" font-size="6.6" text-anchor="end" fill="#333" transform="rotate(-45 60.3 478.2)">LMPP</text>
<text x="72.8" y="478.2" font-size="6.6" text-anchor="end" fill="#333" transform="rotate(-45 72.8 478.2)">CLP</text>
<text x="85.3" y="478.2" font-size="6.6" text-anchor="end" fill="#333" transform="rotate(-45 85.3 478.2)">Thy1</text>
<text x="97.8" y="478.2" font-size="6.6" text-anchor="end" fill="#333" transform="rotate(-45 97.8 478.2)">Thy2</text>
<text x="110.3" y="478.2" font-size="6.6" text-anchor="end" fill="#333" transform="rotate(-45 110.3 478.2)">Thy3</text>
<text x="122.8" y="478.2" font-size="6.6" text-anchor="end" fill="#333" transform="rotate(-45 122.8 478.2)">Thy4</text>
<text x="135.3" y="478.2" font-size="6.6" text-anchor="end" fill="#333" transform="rotate(-45 135.3 478.2)">Thy5</text>
<text x="147.8" y="478.2" font-size="6.6" text-anchor="end" fill="#333" transform="rotate(-45 147.8 478.2)">Thy6</text>
<polyline points="47.0,374.7 59.5,427.9 72.0,437.9 84.5,444.6 97.0,462.6 109.5,471.0 122.0,471.0 134.5,471.0 147.0,471.0" fill="none" stroke="#4f7bb5" stroke-width="1.1"/>
<polyline points="47.0,450.3 59.5,470.0 72.0,470.7 84.5,471.0 97.0,471.0 109.5,471.0 122.0,471.0 134.5,471.0 147.0,471.0" fill="none" stroke="#4aa84a" stroke-width="0.9"/>
<rect x="45.0" y="372.7" width="4" height="4" fill="#1d3f78"/>
<rect x="57.5" y="425.9" width="4" height="4" fill="#1d3f78"/>
<rect x="70.0" y="435.9" width="4" height="4" fill="#1d3f78"/>
<rect x="82.5" y="442.6" width="4" height="4" fill="#1d3f78"/>
<rect x="95.0" y="460.6" width="4" height="4" fill="#1d3f78"/>
<rect x="107.5" y="469.0" width="4" height="4" fill="#1d3f78"/>
<rect x="120.0" y="469.0" width="4" height="4" fill="#1d3f78"/>
<rect x="132.5" y="469.0" width="4" height="4" fill="#1d3f78"/>
<rect x="145.0" y="469.0" width="4" height="4" fill="#1d3f78"/>
<path d="M47 448.1 L49.2 451.9 L44.8 451.9 Z" fill="#3a9a3a"/>
<line x1="44" y1="470.9" x2="150" y2="470.9" stroke="#c8284a" stroke-width="1.8"/>
<circle cx="47.0" cy="470.9" r="2.1" fill="#b51e3c"/>
<circle cx="59.5" cy="470.9" r="2.1" fill="#b51e3c"/>
<circle cx="72.0" cy="470.9" r="2.1" fill="#b51e3c"/>
<circle cx="84.5" cy="470.9" r="2.1" fill="#b51e3c"/>
<circle cx="97.0" cy="470.9" r="2.1" fill="#b51e3c"/>
<circle cx="109.5" cy="470.9" r="2.1" fill="#b51e3c"/>
<circle cx="122.0" cy="470.9" r="2.1" fill="#b51e3c"/>
<circle cx="134.5" cy="470.9" r="2.1" fill="#b51e3c"/>
<circle cx="147.0" cy="470.9" r="2.1" fill="#b51e3c"/>
<line x1="112.5" y1="380.2" x2="121.5" y2="380.2" stroke="#c8284a" stroke-width="1"/>
<circle cx="117" cy="380.2" r="1.8" fill="#b51e3c"/>
<text x="126" y="382.5" font-size="6.6" text-anchor="start" fill="#333" font-weight="normal" font-style="normal">IRX3</text>
<line x1="112.5" y1="390.0" x2="121.5" y2="390.0" stroke="#5b8fd0" stroke-width="1"/>
<rect x="115.3" y="388.3" width="3.4" height="3.4" fill="#1d3f78"/>
<text x="126" y="392.3" font-size="6.6" text-anchor="start" fill="#333" font-weight="normal" font-style="normal">LMO2</text>
<line x1="112.5" y1="399.8" x2="121.5" y2="399.8" stroke="#4aa84a" stroke-width="1"/>
<path d="M117 397.8 L119 401.3 L115 401.3 Z" fill="#3a9a3a"/>
<text x="126" y="402.1" font-size="6.6" text-anchor="start" fill="#333" font-weight="normal" font-style="normal">TAL1</text>
<text x="167.7" y="364.4" font-size="11" text-anchor="start" fill="#111" font-weight="bold" font-style="normal" stroke="#111" stroke-width="0.45">D</text>
<line x1="198.5" y1="368.2" x2="198.5" y2="471.5" stroke="#333" stroke-width="1.3"/>
<line x1="195" y1="471.0" x2="198.5" y2="471.0" stroke="#333" stroke-width="1.1"/>
<text x="192.2" y="473.4" font-size="6.8" text-anchor="end" fill="#333" font-weight="normal" font-style="normal">0</text>
<line x1="195" y1="445.9" x2="198.5" y2="445.9" stroke="#333" stroke-width="1.1"/>
<text x="192.2" y="448.34999999999997" font-size="6.8" text-anchor="end" fill="#333" font-weight="normal" font-style="normal">10</text>
<line x1="195" y1="420.9" x2="198.5" y2="420.9" stroke="#333" stroke-width="1.1"/>
<text x="192.2" y="423.29999999999995" font-size="6.8" text-anchor="end" fill="#333" font-weight="normal" font-style="normal">20</text>
<line x1="195" y1="395.9" x2="198.5" y2="395.9" stroke="#333" stroke-width="1.1"/>
<text x="192.2" y="398.25" font-size="6.8" text-anchor="end" fill="#333" font-weight="normal" font-style="normal">30</text>
<line x1="195" y1="370.8" x2="198.5" y2="370.8" stroke="#333" stroke-width="1.1"/>
<text x="192.2" y="373.2" font-size="6.8" text-anchor="end" fill="#333" font-weight="normal" font-style="normal">40</text>
<text x="180.2" y="419.5" font-size="6.6" text-anchor="middle" fill="#333" transform="rotate(-90 180.2 419.5)" textLength="70" lengthAdjust="spacingAndGlyphs"><tspan font-style="italic">IRX3</tspan> expression (FPKM)</text>
<path d="M206.40 382.00 C206.57 382.00 206.77 382.00 206.90 382.00 C207.03 385.00 207.08 393.67 207.20 400.00 C207.32 406.33 207.38 414.75 207.60 420.00 C207.82 425.25 208.03 427.67 208.50 431.50 C208.97 435.33 209.78 439.15 210.40 443.00 C211.02 446.85 211.82 451.70 212.20 454.60 C212.58 457.50 212.70 458.50 212.70 460.40 C212.70 462.30 212.67 464.47 212.20 466.00 C211.73 467.53 210.87 468.95 209.90 469.60 C208.93 469.90 207.57 469.90 206.40 469.90 C205.23 469.90 203.87 469.90 202.90 469.60 C201.93 468.95 201.07 467.53 200.60 466.00 C200.13 464.47 200.10 462.30 200.10 460.40 C200.10 458.50 200.22 457.50 200.60 454.60 C200.98 451.70 201.78 446.85 202.40 443.00 C203.02 439.15 203.83 435.33 204.30 431.50 C204.77 427.67 204.98 425.25 205.20 420.00 C205.42 414.75 205.48 406.33 205.60 400.00 C205.72 393.67 205.77 385.00 205.90 382.00 C206.03 382.00 206.23 382.00 206.40 382.00 Z" fill="#4d1f6e" stroke="#2c1242" stroke-width="0.5"/>
<rect x="205.9" y="438.5" width="1" height="25.3" fill="#fff"/>
<path d="M219.90 409.70 C220.07 409.70 220.25 409.70 220.40 409.70 C220.55 411.42 220.65 416.37 220.80 420.00 C220.95 423.63 220.92 427.67 221.30 431.50 C221.68 435.33 222.47 439.15 223.10 443.00 C223.73 446.85 224.63 451.70 225.10 454.60 C225.57 457.50 225.80 458.50 225.90 460.40 C226.00 462.30 226.12 464.47 225.70 466.00 C225.28 467.53 224.37 468.95 223.40 469.60 C222.43 469.90 221.07 469.90 219.90 469.90 C218.73 469.90 217.37 469.90 216.40 469.60 C215.43 468.95 214.52 467.53 214.10 466.00 C213.68 464.47 213.80 462.30 213.90 460.40 C214.00 458.50 214.23 457.50 214.70 454.60 C215.17 451.70 216.07 446.85 216.70 443.00 C217.33 439.15 218.12 435.33 218.50 431.50 C218.88 427.67 218.85 423.63 219.00 420.00 C219.15 416.37 219.25 411.42 219.40 409.70 C219.55 409.70 219.73 409.70 219.90 409.70 Z" fill="#c4122f" stroke="#7a0a1c" stroke-width="0.5"/>
<rect x="219.4" y="446" width="1" height="17.8" fill="#fff"/>
<path d="M233.50 421.50 C233.70 421.50 234.00 421.50 234.10 421.50 C234.20 424.58 234.08 434.87 234.10 440.00 C234.12 445.13 234.10 449.87 234.20 452.30 C234.30 454.73 234.23 453.25 234.70 454.60 C235.17 455.95 236.23 458.50 237.00 460.40 C237.77 462.30 238.83 464.65 239.30 466.00 C239.77 467.35 240.10 467.78 239.80 468.50 C239.50 469.22 238.55 469.95 237.50 470.30 C236.45 470.60 234.83 470.60 233.50 470.60 C232.17 470.60 230.55 470.60 229.50 470.30 C228.45 469.95 227.50 469.22 227.20 468.50 C226.90 467.78 227.23 467.35 227.70 466.00 C228.17 464.65 229.23 462.30 230.00 460.40 C230.77 458.50 231.83 455.95 232.30 454.60 C232.77 453.25 232.70 454.73 232.80 452.30 C232.90 449.87 232.88 445.13 232.90 440.00 C232.92 434.87 232.80 424.58 232.90 421.50 C233.00 421.50 233.30 421.50 233.50 421.50 Z" fill="#3ea03a" stroke="#1f5a1f" stroke-width="0.5"/>
<rect x="233" y="460" width="1" height="10" fill="#fff"/>
<circle cx="233.5" cy="423" r="1.1" fill="#1a3a1a"/><circle cx="233.5" cy="437" r="0.8" fill="#1a3a1a"/><circle cx="233.5" cy="443" r="0.8" fill="#1a3a1a"/>
<path d="M247.00 419.30 C247.12 419.30 247.23 419.30 247.35 419.30 C247.47 422.30 247.52 432.38 247.70 437.30 C247.88 442.22 248.13 445.92 248.40 448.80 C248.67 451.68 248.87 452.67 249.30 454.60 C249.73 456.53 250.42 458.50 251.00 460.40 C251.58 462.30 252.47 464.65 252.80 466.00 C253.13 467.35 253.30 467.78 253.00 468.50 C252.70 469.22 252.00 469.95 251.00 470.30 C250.00 470.60 248.33 470.60 247.00 470.60 C245.67 470.60 244.00 470.60 243.00 470.30 C242.00 469.95 241.30 469.22 241.00 468.50 C240.70 467.78 240.87 467.35 241.20 466.00 C241.53 464.65 242.42 462.30 243.00 460.40 C243.58 458.50 244.27 456.53 244.70 454.60 C245.13 452.67 245.33 451.68 245.60 448.80 C245.87 445.92 246.12 442.22 246.30 437.30 C246.48 432.38 246.53 422.30 246.65 419.30 C246.77 419.30 246.88 419.30 247.00 419.30 Z" fill="#3aa6e0" stroke="#1f6a9a" stroke-width="0.5"/>
<line x1="247" y1="419.3" x2="247" y2="437" stroke="#999" stroke-width="0.8"/>
<rect x="246.5" y="457" width="1" height="11.4" fill="#fff"/>
<path d="M260.60 434.20 C260.77 434.20 261.02 434.20 261.10 434.20 C261.18 435.83 260.92 441.50 261.10 444.00 C261.28 446.50 262.20 447.53 262.20 449.20 C262.20 450.87 261.23 452.08 261.10 454.00 C260.97 455.92 260.90 458.87 261.40 460.70 C261.90 462.53 263.13 463.58 264.10 465.00 C265.07 466.42 267.12 468.27 267.20 469.20 C267.28 470.13 265.70 470.32 264.60 470.60 C263.50 470.88 261.93 470.90 260.60 470.90 C259.27 470.90 257.70 470.88 256.60 470.60 C255.50 470.32 253.92 470.13 254.00 469.20 C254.08 468.27 256.13 466.42 257.10 465.00 C258.07 463.58 259.30 462.53 259.80 460.70 C260.30 458.87 260.23 455.92 260.10 454.00 C259.97 452.08 259.00 450.87 259.00 449.20 C259.00 447.53 259.92 446.50 260.10 444.00 C260.28 441.50 260.02 435.83 260.10 434.20 C260.18 434.20 260.43 434.20 260.60 434.20 Z" fill="#1d5a38" stroke="#0f3020" stroke-width="0.5"/>
<circle cx="260.6" cy="435" r="1" fill="#1a2a1a"/>
<line x1="274.2" y1="434.2" x2="274.2" y2="470" stroke="#777" stroke-width="0.7"/>
<path d="M268.5 471 C271 470 272.5 468 274.2 467.8 C276 468 277.5 470 280 471 Z" fill="#b03a5a"/>
<circle cx="274.2" cy="434.5" r="0.9" fill="#333"/>
<circle cx="274.2" cy="454.4" r="0.9" fill="#333"/>
<circle cx="274.2" cy="465.4" r="0.9" fill="#333"/>
<line x1="287.5" y1="418" x2="287.5" y2="470" stroke="#999" stroke-width="0.7"/>
<circle cx="287.5" cy="418.5" r="0.9" fill="#444"/>
<circle cx="287.5" cy="459.6" r="0.9" fill="#444"/>
<circle cx="287.5" cy="463.6" r="0.9" fill="#444"/>
<circle cx="287.5" cy="465.4" r="0.9" fill="#444"/>
<line x1="301.3" y1="468" x2="301.3" y2="471" stroke="#333" stroke-width="1"/>
<line x1="198" y1="471" x2="309" y2="471" stroke="#333" stroke-width="1.3"/>
<line x1="206.5" y1="471" x2="206.5" y2="474" stroke="#333" stroke-width="0.8"/>
<text x="207.1" y="478.4" font-size="6.6" text-anchor="end" fill="#333" transform="rotate(-45 207.1 478.4)">TLX3</text>
<line x1="220" y1="471" x2="220" y2="474" stroke="#333" stroke-width="0.8"/>
<text x="220.6" y="478.4" font-size="6.6" text-anchor="end" fill="#333" transform="rotate(-45 220.6 478.4)">HOXA</text>
<line x1="233.7" y1="471" x2="233.7" y2="474" stroke="#333" stroke-width="0.8"/>
<text x="234.29999999999998" y="478.4" font-size="6.6" text-anchor="end" fill="#333" transform="rotate(-45 234.29999999999998 478.4)">LMO2_LYL1</text>
<line x1="247" y1="471" x2="247" y2="474" stroke="#333" stroke-width="0.8"/>
<text x="247.6" y="478.4" font-size="6.6" text-anchor="end" fill="#333" transform="rotate(-45 247.6 478.4)">TLX1</text>
<line x1="260.6" y1="471" x2="260.6" y2="474" stroke="#333" stroke-width="0.8"/>
<text x="261.20000000000005" y="478.4" font-size="6.6" text-anchor="end" fill="#333" transform="rotate(-45 261.20000000000005 478.4)">NKX2_1</text>
<line x1="274.2" y1="471" x2="274.2" y2="474" stroke="#333" stroke-width="0.8"/>
<text x="274.8" y="478.4" font-size="6.6" text-anchor="end" fill="#333" transform="rotate(-45 274.8 478.4)">Unknown</text>
<line x1="287.5" y1="471" x2="287.5" y2="474" stroke="#333" stroke-width="0.8"/>
<text x="288.1" y="478.4" font-size="6.6" text-anchor="end" fill="#333" transform="rotate(-45 288.1 478.4)">TAL1/2</text>
<line x1="301.3" y1="471" x2="301.3" y2="474" stroke="#333" stroke-width="0.8"/>
<text x="301.90000000000003" y="478.4" font-size="6.6" text-anchor="end" fill="#333" transform="rotate(-45 301.90000000000003 478.4)">LMO1/2</text>
<text x="323.8" y="364.4" font-size="11" text-anchor="start" fill="#111" font-weight="bold" font-style="normal" stroke="#111" stroke-width="0.45">E</text>
<line x1="353.4" y1="369.2" x2="353.4" y2="471.3" stroke="#333" stroke-width="1.3"/>
<line x1="350.2" y1="470.8" x2="353.4" y2="470.8" stroke="#333" stroke-width="1"/>
<text x="347.4" y="473.2" font-size="6.8" text-anchor="end" fill="#333" font-weight="normal" font-style="normal">0</text>
<line x1="350.2" y1="437.8" x2="353.4" y2="437.8" stroke="#333" stroke-width="1"/>
<text x="347.4" y="440.24" font-size="6.8" text-anchor="end" fill="#333" font-weight="normal" font-style="normal">20</text>
<line x1="350.2" y1="404.9" x2="353.4" y2="404.9" stroke="#333" stroke-width="1"/>
<text x="347.4" y="407.28" font-size="6.8" text-anchor="end" fill="#333" font-weight="normal" font-style="normal">40</text>
<line x1="350.2" y1="371.9" x2="353.4" y2="371.9" stroke="#333" stroke-width="1"/>
<text x="347.4" y="374.32" font-size="6.8" text-anchor="end" fill="#333" font-weight="normal" font-style="normal">60</text>
<text x="335.2" y="419.7" font-size="6.6" text-anchor="middle" fill="#333" transform="rotate(-90 335.2 419.7)" textLength="70" lengthAdjust="spacingAndGlyphs"><tspan font-style="italic">IRX3</tspan> expression (FPKM)</text>
<rect x="355.40" y="371.92" width="4.6" height="98.88" fill="#144680" stroke="#10305a" stroke-width="0.4"/>
<rect x="354.27" y="474" width="6.86" height="4" fill="#e0117f"/>
<line x1="357.70" y1="471" x2="357.70" y2="473.5" stroke="#333" stroke-width="0.8"/>
<text x="359.80" y="481.2" font-size="6.2" text-anchor="end" fill="#333" transform="rotate(-90 359.80 481.2)">P12_ICHIKAWA</text>
<rect x="362.25" y="388.40" width="4.6" height="82.40" fill="#144680" stroke="#10305a" stroke-width="0.4"/>
<rect x="361.12" y="474" width="6.86" height="4" fill="#f5b821"/>
<line x1="364.55" y1="471" x2="364.55" y2="473.5" stroke="#333" stroke-width="0.8"/>
<text x="366.65" y="481.2" font-size="6.2" text-anchor="end" fill="#333" transform="rotate(-90 366.65 481.2)">CUTLL-1</text>
<rect x="369.10" y="396.64" width="4.6" height="74.16" fill="#144680" stroke="#10305a" stroke-width="0.4"/>
<rect x="367.97" y="474" width="6.86" height="4" fill="#3fa33f"/>
<line x1="371.40" y1="471" x2="371.40" y2="473.5" stroke="#333" stroke-width="0.8"/>
<text x="373.50" y="481.2" font-size="6.2" text-anchor="end" fill="#333" transform="rotate(-90 373.50 481.2)">DND41</text>
<rect x="375.95" y="441.14" width="4.6" height="29.66" fill="#144680" stroke="#10305a" stroke-width="0.4"/>
<rect x="374.82" y="474" width="6.86" height="4" fill="#5a2a82"/>
<line x1="378.25" y1="471" x2="378.25" y2="473.5" stroke="#333" stroke-width="0.8"/>
<text x="380.35" y="481.2" font-size="6.2" text-anchor="end" fill="#333" transform="rotate(-90 380.35 481.2)">JURKAT</text>
<rect x="382.80" y="447.73" width="4.6" height="23.07" fill="#144680" stroke="#10305a" stroke-width="0.4"/>
<rect x="381.67" y="474" width="6.86" height="4" fill="#f5b821"/>
<line x1="385.10" y1="471" x2="385.10" y2="473.5" stroke="#333" stroke-width="0.8"/>
<text x="387.20" y="481.2" font-size="6.2" text-anchor="end" fill="#333" transform="rotate(-90 387.20 481.2)">CTV-1</text>
<rect x="389.65" y="449.38" width="4.6" height="21.42" fill="#144680" stroke="#10305a" stroke-width="0.4"/>
<rect x="388.52" y="474" width="6.86" height="4" fill="#f0962a"/>
<line x1="391.95" y1="471" x2="391.95" y2="473.5" stroke="#333" stroke-width="0.8"/>
<text x="394.05" y="481.2" font-size="6.2" text-anchor="end" fill="#333" transform="rotate(-90 394.05 481.2)">ALL-SIL</text>
<rect x="396.50" y="450.53" width="4.6" height="20.27" fill="#144680" stroke="#10305a" stroke-width="0.4"/>
<rect x="395.37" y="474" width="6.86" height="4" fill="#5a2a82"/>
<line x1="398.80" y1="471" x2="398.80" y2="473.5" stroke="#333" stroke-width="0.8"/>
<text x="400.90" y="481.2" font-size="6.2" text-anchor="end" fill="#333" transform="rotate(-90 400.90 481.2)">MOLT4</text>
<rect x="403.35" y="451.35" width="4.6" height="19.45" fill="#144680" stroke="#10305a" stroke-width="0.4"/>
<rect x="402.22" y="474" width="6.86" height="4" fill="#5a2a82"/>
<line x1="405.65" y1="471" x2="405.65" y2="473.5" stroke="#333" stroke-width="0.8"/>
<text x="407.75" y="481.2" font-size="6.2" text-anchor="end" fill="#333" transform="rotate(-90 407.75 481.2)">MOLT3</text>
<rect x="410.20" y="453.99" width="4.6" height="16.81" fill="#144680" stroke="#10305a" stroke-width="0.4"/>
<rect x="409.07" y="474" width="6.86" height="4" fill="#5a2a82"/>
<line x1="412.50" y1="471" x2="412.50" y2="473.5" stroke="#333" stroke-width="0.8"/>
<text x="414.60" y="481.2" font-size="6.2" text-anchor="end" fill="#333" transform="rotate(-90 414.60 481.2)">CCRF_CEM</text>
<rect x="417.05" y="454.98" width="4.6" height="15.82" fill="#144680" stroke="#10305a" stroke-width="0.4"/>
<rect x="415.92" y="474" width="6.86" height="4" fill="#f5b821"/>
<line x1="419.35" y1="471" x2="419.35" y2="473.5" stroke="#333" stroke-width="0.8"/>
<text x="421.45" y="481.2" font-size="6.2" text-anchor="end" fill="#333" transform="rotate(-90 421.45 481.2)">KARPAS_45</text>
<rect x="423.90" y="455.97" width="4.6" height="14.83" fill="#144680" stroke="#10305a" stroke-width="0.4"/>
<rect x="422.77" y="474" width="6.86" height="4" fill="#5a2a82"/>
<line x1="426.20" y1="471" x2="426.20" y2="473.5" stroke="#333" stroke-width="0.8"/>
<text x="428.30" y="481.2" font-size="6.2" text-anchor="end" fill="#333" transform="rotate(-90 428.30 481.2)">HSB2</text>
<rect x="430.75" y="458.93" width="4.6" height="11.87" fill="#144680" stroke="#10305a" stroke-width="0.4"/>
<rect x="429.62" y="474" width="6.86" height="4" fill="#5a2a82"/>
<line x1="433.05" y1="471" x2="433.05" y2="473.5" stroke="#333" stroke-width="0.8"/>
<text x="435.15" y="481.2" font-size="6.2" text-anchor="end" fill="#333" transform="rotate(-90 435.15 481.2)">RPMI8402</text>
<rect x="437.60" y="459.43" width="4.6" height="11.37" fill="#144680" stroke="#10305a" stroke-width="0.4"/>
<rect x="436.47" y="474" width="6.86" height="4" fill="#f5b821"/>
<line x1="439.90" y1="471" x2="439.90" y2="473.5" stroke="#333" stroke-width="0.8"/>
<text x="442.00" y="481.2" font-size="6.2" text-anchor="end" fill="#333" transform="rotate(-90 442.00 481.2)">SUPT13</text>
<rect x="444.45" y="461.08" width="4.6" height="9.72" fill="#144680" stroke="#10305a" stroke-width="0.4"/>
<rect x="443.32" y="474" width="6.86" height="4" fill="#3aa8e0"/>
<line x1="446.75" y1="471" x2="446.75" y2="473.5" stroke="#333" stroke-width="0.8"/>
<text x="448.85" y="481.2" font-size="6.2" text-anchor="end" fill="#333" transform="rotate(-90 448.85 481.2)">LOUCY</text>
<rect x="451.30" y="461.90" width="4.6" height="8.90" fill="#144680" stroke="#10305a" stroke-width="0.4"/>
<rect x="450.17" y="474" width="6.86" height="4" fill="#f5b821"/>
<line x1="453.60" y1="471" x2="453.60" y2="473.5" stroke="#333" stroke-width="0.8"/>
<text x="455.70" y="481.2" font-size="6.2" text-anchor="end" fill="#333" transform="rotate(-90 455.70 481.2)">SUPT1</text>
<rect x="458.15" y="469.15" width="4.6" height="1.65" fill="#144680" stroke="#10305a" stroke-width="0.4"/>
<rect x="457.02" y="474" width="6.86" height="4" fill="#3fa33f"/>
<line x1="460.45" y1="471" x2="460.45" y2="473.5" stroke="#333" stroke-width="0.8"/>
<text x="462.55" y="481.2" font-size="6.2" text-anchor="end" fill="#333" transform="rotate(-90 462.55 481.2)">HPB-ALL</text>
<rect x="465.00" y="470.22" width="4.6" height="0.58" fill="#144680" stroke="#10305a" stroke-width="0.4"/>
<rect x="463.87" y="474" width="6.86" height="4" fill="#f5b821"/>
<line x1="467.30" y1="471" x2="467.30" y2="473.5" stroke="#333" stroke-width="0.8"/>
<text x="469.40" y="481.2" font-size="6.2" text-anchor="end" fill="#333" transform="rotate(-90 469.40 481.2)">PEER</text>
<rect x="470.72" y="474" width="6.86" height="4" fill="#e0117f"/>
<line x1="474.15" y1="471" x2="474.15" y2="473.5" stroke="#333" stroke-width="0.8"/>
<text x="476.25" y="481.2" font-size="6.2" text-anchor="end" fill="#333" transform="rotate(-90 476.25 481.2)">PF382</text>
<rect x="477.57" y="474" width="6.86" height="4" fill="#f5b821"/>
<line x1="481.00" y1="471" x2="481.00" y2="473.5" stroke="#333" stroke-width="0.8"/>
<text x="483.10" y="481.2" font-size="6.2" text-anchor="end" fill="#333" transform="rotate(-90 483.10 481.2)">BE-13</text>
<rect x="484.42" y="474" width="6.86" height="4" fill="#e0117f"/>
<line x1="487.85" y1="471" x2="487.85" y2="473.5" stroke="#333" stroke-width="0.8"/>
<text x="489.95" y="481.2" font-size="6.2" text-anchor="end" fill="#333" transform="rotate(-90 489.95 481.2)">KOPTK1</text>
<rect x="491.27" y="474" width="6.86" height="4" fill="#5a2a82"/>
<line x1="494.70" y1="471" x2="494.70" y2="473.5" stroke="#333" stroke-width="0.8"/>
<text x="496.80" y="481.2" font-size="6.2" text-anchor="end" fill="#333" transform="rotate(-90 496.80 481.2)">MOLT-16</text>
<rect x="498.12" y="474" width="6.86" height="4" fill="#f5b821"/>
<line x1="501.55" y1="471" x2="501.55" y2="473.5" stroke="#333" stroke-width="0.8"/>
<text x="503.65" y="481.2" font-size="6.2" text-anchor="end" fill="#333" transform="rotate(-90 503.65 481.2)">SUPT11</text>
<rect x="504.97" y="474" width="6.86" height="4" fill="#e0117f"/>
<line x1="508.40" y1="471" x2="508.40" y2="473.5" stroke="#333" stroke-width="0.8"/>
<text x="510.50" y="481.2" font-size="6.2" text-anchor="end" fill="#333" transform="rotate(-90 510.50 481.2)">DU528</text>
<line x1="354" y1="470.9" x2="513" y2="470.9" stroke="#333" stroke-width="1.3"/>
<text x="469.8" y="390.4" font-size="7" text-anchor="start" fill="#333" font-weight="normal" font-style="normal" textLength="24.2" lengthAdjust="spacingAndGlyphs">Subtype</text>
<rect x="469.8" y="394.5" width="6.3" height="6.3" fill="#e0117f"/>
<text x="479" y="400.1" font-size="7.1" text-anchor="start" fill="#333" font-weight="normal" font-style="normal" textLength="23.7" lengthAdjust="spacingAndGlyphs">LMO1/2</text>
<rect x="469.8" y="404.59999999999997" width="6.3" height="6.3" fill="#3fa33f"/>
<text x="479" y="410.2" font-size="7.1" text-anchor="start" fill="#333" font-weight="normal" font-style="normal" textLength="14.5" lengthAdjust="spacingAndGlyphs">TLX3</text>
<rect x="469.8" y="414.59999999999997" width="6.3" height="6.3" fill="#5a2a82"/>
<text x="479" y="420.2" font-size="7.1" text-anchor="start" fill="#333" font-weight="normal" font-style="normal" textLength="21.5" lengthAdjust="spacingAndGlyphs">TAL1/2</text>
<rect x="469.8" y="424.7" width="6.3" height="6.3" fill="#f0962a"/>
<text x="479" y="430.3" font-size="7.1" text-anchor="start" fill="#333" font-weight="normal" font-style="normal" textLength="13.5" lengthAdjust="spacingAndGlyphs">TLX1</text>
<rect x="469.8" y="434.7" width="6.3" height="6.3" fill="#3aa8e0"/>
<text x="479" y="440.3" font-size="7.1" text-anchor="start" fill="#333" font-weight="normal" font-style="normal" textLength="18.5" lengthAdjust="spacingAndGlyphs">HOXA</text>
<rect x="469.8" y="444.7" width="6.3" height="6.3" fill="#f5b821"/>
<text x="479" y="450.3" font-size="7.1" text-anchor="start" fill="#333" font-weight="normal" font-style="normal" textLength="27" lengthAdjust="spacingAndGlyphs">Unknown</text>
<text x="7.7" y="551.6" font-size="11" text-anchor="start" fill="#111" font-weight="bold" font-style="normal" stroke="#111" stroke-width="0.45">F</text>
<line x1="35.7" y1="563.2" x2="35.7" y2="592.8" stroke="#333" stroke-width="1.2"/>
<line x1="33" y1="566" x2="35.6" y2="566" stroke="#333" stroke-width="0.9"/>
<line x1="33" y1="591.5" x2="35.6" y2="591.5" stroke="#333" stroke-width="0.9"/>
<text x="30.6" y="568.6" font-size="6.9" text-anchor="end" fill="#333" font-weight="normal" font-style="normal">132.2</text>
<text x="30.6" y="593.9" font-size="6.9" text-anchor="end" fill="#333" font-weight="normal" font-style="normal">0</text>
<text x="45" y="561.8" font-size="7" text-anchor="start" fill="#333" font-weight="normal" font-style="normal" textLength="53" lengthAdjust="spacingAndGlyphs">| chr16:53,582,240</text>
<text x="309" y="561.3" font-size="7" text-anchor="end" fill="#333" font-weight="normal" font-style="normal" textLength="52.5" lengthAdjust="spacingAndGlyphs">chr16:55,304,658|</text>
<line x1="139" y1="564.5" x2="236" y2="564.5" stroke="#333" stroke-width="1.1"/>
<text x="187.5" y="561" font-size="7" text-anchor="middle" fill="#333" font-weight="normal" font-style="normal" textLength="19.5" lengthAdjust="spacingAndGlyphs">500 kb</text>
<path d="M41.5 591.3 L41.5 590.49 L42.0 590.42 L42.5 590.47 L43.0 590.39 L43.5 590.38 L44.0 590.50 L44.5 590.50 L45.0 590.21 L45.5 590.49 L46.0 590.49 L46.5 590.01 L47.0 590.45 L47.5 590.21 L48.0 590.45 L48.5 590.37 L49.0 590.50 L49.5 590.37 L50.0 590.17 L50.5 590.43 L51.0 590.30 L51.5 590.35 L52.0 590.50 L52.5 590.28 L53.0 590.40 L53.5 590.49 L54.0 590.50 L54.5 590.18 L55.0 590.45 L55.5 590.31 L56.0 590.16 L56.5 590.32 L57.0 590.11 L57.5 590.47 L58.0 590.24 L58.5 590.46 L59.0 590.09 L59.5 590.16 L60.0 590.50 L60.5 590.50 L61.0 590.49 L61.5 590.05 L62.0 590.46 L62.5 590.38 L63.0 590.49 L63.5 590.43 L64.0 590.44 L64.5 590.21 L65.0 589.37 L65.5 588.63 L66.0 588.73 L66.5 589.83 L67.0 590.02 L67.5 590.18 L68.0 590.01 L68.5 590.35 L69.0 590.50 L69.5 590.18 L70.0 590.05 L70.5 590.13 L71.0 590.41 L71.5 590.32 L72.0 590.50 L72.5 590.21 L73.0 590.41 L73.5 590.49 L74.0 590.50 L74.5 590.19 L75.0 590.02 L75.5 590.50 L76.0 590.24 L76.5 590.47 L77.0 590.50 L77.5 590.49 L78.0 590.27 L78.5 590.17 L79.0 590.50 L79.5 590.38 L80.0 590.50 L80.5 590.31 L81.0 590.48 L81.5 590.16 L82.0 590.03 L82.5 590.44 L83.0 590.00 L83.5 590.49 L84.0 590.50 L84.5 590.39 L85.0 590.50 L85.5 590.50 L86.0 590.47 L86.5 590.39 L87.0 590.50 L87.5 590.50 L88.0 590.17 L88.5 590.48 L89.0 590.06 L89.5 590.14 L90.0 590.47 L90.5 590.45 L91.0 590.43 L91.5 590.36 L92.0 590.35 L92.5 590.08 L93.0 589.30 L93.5 588.48 L94.0 589.35 L94.5 590.12 L95.0 590.27 L95.5 590.49 L96.0 590.49 L96.5 590.03 L97.0 590.43 L97.5 590.42 L98.0 590.50 L98.5 590.46 L99.0 590.40 L99.5 590.50 L100.0 590.38 L100.5 590.37 L101.0 590.50 L101.5 590.38 L102.0 590.45 L102.5 590.34 L103.0 590.48 L103.5 590.32 L104.0 590.30 L104.5 590.50 L105.0 590.50 L105.5 590.35 L106.0 590.05 L106.5 590.49 L107.0 590.45 L107.5 590.40 L108.0 590.48 L108.5 590.48 L109.0 590.48 L109.5 590.47 L110.0 590.39 L110.5 590.49 L111.0 590.47 L111.5 590.25 L112.0 590.39 L112.5 589.93 L113.0 588.91 L113.5 587.60 L114.0 586.27 L114.5 585.86 L115.0 587.29 L115.5 588.84 L116.0 589.85 L116.5 590.17 L117.0 590.47 L117.5 590.48 L118.0 590.48 L118.5 590.21 L119.0 590.46 L119.5 590.18 L120.0 590.47 L120.5 590.26 L121.0 589.41 L121.5 587.70 L122.0 586.61 L122.5 586.84 L123.0 588.39 L123.5 589.69 L124.0 590.34 L124.5 590.22 L125.0 590.20 L125.5 590.50 L126.0 590.49 L126.5 590.24 L127.0 590.37 L127.5 590.24 L128.0 590.48 L128.5 590.50 L129.0 590.49 L129.5 590.25 L130.0 590.49 L130.5 590.48 L131.0 590.46 L131.5 590.45 L132.0 590.26 L132.5 588.74 L133.0 585.51 L133.5 580.66 L134.0 579.61 L134.5 584.15 L135.0 588.16 L135.5 590.15 L136.0 590.04 L136.5 590.10 L137.0 590.49 L137.5 590.29 L138.0 590.21 L138.5 590.35 L139.0 590.43 L139.5 590.49 L140.0 590.48 L140.5 590.49 L141.0 590.50 L141.5 590.40 L142.0 590.49 L142.5 590.23 L143.0 590.50 L143.5 590.13 L144.0 590.33 L144.5 590.11 L145.0 590.14 L145.5 590.14 L146.0 590.40 L146.5 590.50 L147.0 590.29 L147.5 590.50 L148.0 590.49 L148.5 590.34 L149.0 590.35 L149.5 590.10 L150.0 588.87 L150.5 587.72 L151.0 586.61 L151.5 586.78 L152.0 587.82 L152.5 589.46 L153.0 589.99 L153.5 590.43 L154.0 590.49 L154.5 590.42 L155.0 590.23 L155.5 590.50 L156.0 590.25 L156.5 590.11 L157.0 590.24 L157.5 590.22 L158.0 590.50 L158.5 590.38 L159.0 590.18 L159.5 590.50 L160.0 590.49 L160.5 590.49 L161.0 590.43 L161.5 590.46 L162.0 590.45 L162.5 590.27 L163.0 590.50 L163.5 590.50 L164.0 590.50 L164.5 590.50 L165.0 590.50 L165.5 590.04 L166.0 590.19 L166.5 590.50 L167.0 590.44 L167.5 590.48 L168.0 590.48 L168.5 590.48 L169.0 590.36 L169.5 590.31 L170.0 589.91 L170.5 588.94 L171.0 588.51 L171.5 589.36 L172.0 590.11 L172.5 590.28 L173.0 590.47 L173.5 590.50 L174.0 590.50 L174.5 590.47 L175.0 590.39 L175.5 590.26 L176.0 590.47 L176.5 590.21 L177.0 590.14 L177.5 589.19 L178.0 586.47 L178.5 582.77 L179.0 581.42 L179.5 584.18 L180.0 587.65 L180.5 589.76 L181.0 590.38 L181.5 590.41 L182.0 590.33 L182.5 590.50 L183.0 590.46 L183.5 590.46 L184.0 590.16 L184.5 590.09 L185.0 590.47 L185.5 590.14 L186.0 590.25 L186.5 590.49 L187.0 590.45 L187.5 590.50 L188.0 590.23 L188.5 590.35 L189.0 590.15 L189.5 590.25 L190.0 590.35 L190.5 590.30 L191.0 590.41 L191.5 590.50 L192.0 590.40 L192.5 590.50 L193.0 590.50 L193.5 590.27 L194.0 590.50 L194.5 590.50 L195.0 590.50 L195.5 590.16 L196.0 590.50 L196.5 590.50 L197.0 590.20 L197.5 590.50 L198.0 590.20 L198.5 590.35 L199.0 590.21 L199.5 590.07 L200.0 590.40 L200.5 590.25 L201.0 590.50 L201.5 590.27 L202.0 590.43 L202.5 590.32 L203.0 590.50 L203.5 590.29 L204.0 590.09 L204.5 590.50 L205.0 590.48 L205.5 590.41 L206.0 590.22 L206.5 590.49 L207.0 590.50 L207.5 590.49 L208.0 590.38 L208.5 590.29 L209.0 590.47 L209.5 590.48 L210.0 590.47 L210.5 590.48 L211.0 590.46 L211.5 590.50 L212.0 590.44 L212.5 590.04 L213.0 590.46 L213.5 590.29 L214.0 590.50 L214.5 590.34 L215.0 590.28 L215.5 590.35 L216.0 590.43 L216.5 590.44 L217.0 590.37 L217.5 590.14 L218.0 590.50 L218.5 590.50 L219.0 590.29 L219.5 590.11 L220.0 590.43 L220.5 590.46 L221.0 590.31 L221.5 590.50 L222.0 590.49 L222.5 590.50 L223.0 590.40 L223.5 590.48 L224.0 590.49 L224.5 590.33 L225.0 590.07 L225.5 590.49 L226.0 590.32 L226.5 590.46 L227.0 590.19 L227.5 590.40 L228.0 590.49 L228.5 590.49 L229.0 590.50 L229.5 590.44 L230.0 590.47 L230.5 590.50 L231.0 590.48 L231.5 590.48 L232.0 590.27 L232.5 590.50 L233.0 590.01 L233.5 590.44 L234.0 590.39 L234.5 590.45 L235.0 590.21 L235.5 590.22 L236.0 590.41 L236.5 590.44 L237.0 590.31 L237.5 590.19 L238.0 590.47 L238.5 590.30 L239.0 590.06 L239.5 590.45 L240.0 590.49 L240.5 590.49 L241.0 590.32 L241.5 590.35 L242.0 590.06 L242.5 590.19 L243.0 590.49 L243.5 590.50 L244.0 590.49 L244.5 590.50 L245.0 590.32 L245.5 590.18 L246.0 590.14 L246.5 590.49 L247.0 590.18 L247.5 590.48 L248.0 590.46 L248.5 590.31 L249.0 590.50 L249.5 590.50 L250.0 590.21 L250.5 590.49 L251.0 590.48 L251.5 590.40 L252.0 590.35 L252.5 590.50 L253.0 590.48 L253.5 590.46 L254.0 590.44 L254.5 590.50 L255.0 590.40 L255.5 590.06 L256.0 590.47 L256.5 590.42 L257.0 590.50 L257.5 590.49 L258.0 590.35 L258.5 590.50 L259.0 590.15 L259.5 590.12 L260.0 590.50 L260.5 590.08 L261.0 590.47 L261.5 590.27 L262.0 590.28 L262.5 590.49 L263.0 590.35 L263.5 590.36 L264.0 590.24 L264.5 590.49 L265.0 590.29 L265.5 590.06 L266.0 590.35 L266.5 590.42 L267.0 590.50 L267.5 590.44 L268.0 590.48 L268.5 590.31 L269.0 590.34 L269.5 590.41 L270.0 590.50 L270.5 590.37 L271.0 590.37 L271.5 590.50 L272.0 590.15 L272.5 590.36 L273.0 590.50 L273.5 590.10 L274.0 590.50 L274.5 590.48 L275.0 590.31 L275.5 590.39 L276.0 590.41 L276.5 590.36 L277.0 590.45 L277.5 590.48 L278.0 590.50 L278.5 590.50 L279.0 590.32 L279.5 590.29 L280.0 590.42 L280.5 590.30 L281.0 590.48 L281.5 590.49 L282.0 590.47 L282.5 590.17 L283.0 590.50 L283.5 590.44 L284.0 590.49 L284.5 590.27 L285.0 590.48 L285.5 590.48 L286.0 590.47 L286.5 590.42 L287.0 590.27 L287.5 590.48 L288.0 590.20 L288.5 590.50 L289.0 590.49 L289.5 590.50 L290.0 590.50 L290.5 590.26 L291.0 590.31 L291.5 590.50 L292.0 590.50 L292.5 590.46 L293.0 590.29 L293.5 590.23 L294.0 590.29 L294.5 590.40 L295.0 590.50 L295.5 590.47 L296.0 590.50 L296.5 590.43 L297.0 590.41 L297.5 590.50 L298.0 590.49 L298.5 590.26 L299.0 590.50 L299.5 590.24 L300.0 590.15 L300.5 590.07 L301.0 590.47 L301.5 590.39 L302.0 590.20 L302.5 589.34 L303.0 586.32 L303.5 580.84 L304.0 573.35 L304.5 568.33 L305.0 570.76 L305.5 577.86 L306.0 584.67 L306.5 588.71 L307.0 589.87 L307.5 590.29 L308.0 590.43 L308.5 590.43 L309.0 590.45 L309.5 590.50 L310.0 590.43 L310 591.3 Z" fill="#1f4a80" stroke="#1f4a80" stroke-width="0.3"/>
<line x1="21.5" y1="597.8" x2="28" y2="597.8" stroke="#222" stroke-width="0.9"/>
<path d="M19 597.8 L22.2 596.0 L22.2 599.5999999999999 Z" fill="#222"/>
<text x="30.8" y="600" font-size="6.6" text-anchor="start" fill="#333" font-weight="normal" font-style="italic" textLength="28.5" lengthAdjust="spacingAndGlyphs">RPGRIP1L</text>
<text x="62.5" y="600" font-size="6.6" text-anchor="start" fill="#333" font-weight="normal" font-style="italic" textLength="13.5" lengthAdjust="spacingAndGlyphs">FTO</text>
<line x1="83.4" y1="598.6" x2="89.5" y2="598.6" stroke="#222" stroke-width="0.9"/>
<path d="M92 598.6 L88.8 596.8000000000001 L88.8 600.4 Z" fill="#222"/>
<line x1="163.3" y1="598.6" x2="169.4" y2="598.6" stroke="#222" stroke-width="0.9"/>
<path d="M160.8 598.6 L164.0 596.8000000000001 L164.0 600.4 Z" fill="#222"/>
<text x="170.8" y="600.8" font-size="6.6" text-anchor="start" fill="#333" font-weight="normal" font-style="italic" textLength="13" lengthAdjust="spacingAndGlyphs">IRX3</text>
<line x1="270.2" y1="597.8" x2="277" y2="597.8" stroke="#222" stroke-width="0.9"/>
<path d="M267.7 597.8 L270.9 596.0 L270.9 599.5999999999999 Z" fill="#222"/>
<text x="280.2" y="600.2" font-size="7" text-anchor="start" fill="#333" font-weight="normal" font-style="italic" textLength="21" lengthAdjust="spacingAndGlyphs">CRNDE</text>
<text x="306.7" y="600.2" font-size="7" text-anchor="start" fill="#333" font-weight="normal" font-style="italic" textLength="13.5" lengthAdjust="spacingAndGlyphs">IRX5</text>
<line x1="323" y1="597.8" x2="329.5" y2="597.8" stroke="#222" stroke-width="0.9"/>
<path d="M332 597.8 L328.8 596.0 L328.8 599.5999999999999 Z" fill="#222"/>
<line x1="45.3" y1="607.7" x2="144.7" y2="607.7" stroke="#8c7496" stroke-width="0.8"/>
<line x1="144.7" y1="605" x2="144.7" y2="610.5" stroke="#8a6a9a" stroke-width="0.8"/>
<rect x="45.3" y="604.6" width="1.2" height="6.2" fill="#6e4a7e"/>
<rect x="47.5" y="604.6" width="1.2" height="6.2" fill="#6e4a7e"/>
<rect x="50" y="604.6" width="2.8" height="6.2" fill="#6e4a7e"/>
<rect x="53.5" y="604.6" width="2.5" height="6.2" fill="#6e4a7e"/>
<rect x="57" y="604.6" width="1.2" height="6.2" fill="#6e4a7e"/>
<rect x="59" y="604.6" width="1.3" height="6.2" fill="#6e4a7e"/>
<rect x="61.5" y="604.6" width="3.8" height="6.2" fill="#6e4a7e"/>
<rect x="86.5" y="605.2" width="0.8" height="5" fill="#6e4a7e"/>
<rect x="89.7" y="605.2" width="0.8" height="5" fill="#6e4a7e"/>
<rect x="92.9" y="605.2" width="0.8" height="5" fill="#6e4a7e"/>
<rect x="99.2" y="605.2" width="0.8" height="5" fill="#6e4a7e"/>
<rect x="101.4" y="605.2" width="0.8" height="5" fill="#6e4a7e"/>
<rect x="109.8" y="605.2" width="0.8" height="5" fill="#6e4a7e"/>
<rect x="120.4" y="605.2" width="0.8" height="5" fill="#6e4a7e"/>
<line x1="178.7" y1="604.5" x2="178.7" y2="611" stroke="#1f4a80" stroke-width="1"/>
<rect x="302.5" y="604.8" width="1.5" height="4.5" fill="#555"/>
<line x1="100.8" y1="612.8" x2="124" y2="612.8" stroke="#c8c8c8" stroke-width="0.8"/>
<line x1="140" y1="612.8" x2="171" y2="612.8" stroke="#c8c8c8" stroke-width="0.8"/>
<line x1="217.7" y1="612.8" x2="225.7" y2="612.8" stroke="#bbb" stroke-width="1"/>
<line x1="296" y1="612.8" x2="302" y2="612.8" stroke="#c0a0b0" stroke-width="1"/>
<path d="M105.6 613.0 Q120.55 650.20 135.5 613.0" fill="none" stroke="#d2d2d2" stroke-width="0.75"/>
<path d="M109.9 613.0 Q122.70 647.00 135.5 613.0" fill="none" stroke="#d2d2d2" stroke-width="0.75"/>
<path d="M113.8 613.0 Q124.65 643.00 135.5 613.0" fill="none" stroke="#d2d2d2" stroke-width="0.75"/>
<path d="M118 613.0 Q126.75 639.00 135.5 613.0" fill="none" stroke="#d2d2d2" stroke-width="0.75"/>
<path d="M136.7 613.0 Q142.85 639.00 149 613.0" fill="none" stroke="#d2d2d2" stroke-width="0.75"/>
<path d="M136.7 613.0 Q146.35 645.00 156 613.0" fill="none" stroke="#d2d2d2" stroke-width="0.75"/>
<path d="M136.7 613.0 Q149.70 649.00 162.7 613.0" fill="none" stroke="#d2d2d2" stroke-width="0.75"/>
<path d="M136.7 613.0 Q153.05 652.00 169.4 613.0" fill="none" stroke="#d2d2d2" stroke-width="0.75"/>
<path d="M136.7 613.0 Q220.35 707.00 304 613.0" fill="none" stroke="#d6d6d6" stroke-width="0.85"/>
<path d="M222 613 C262 653 289.5 653 303.5 613" fill="none" stroke="#d0d0d0" stroke-width="0.85"/>
<path d="M302 613.0 Q304.50 643.00 307 613.0" fill="none" stroke="#d8d8d8" stroke-width="0.75"/>
<path d="M136.7 613.0 Q155.95 656.00 175.2 613.0" fill="none" stroke="#c53a50" stroke-width="0.9"/>
<path d="M136.7 613.0 Q158.85 660.00 181 613.0" fill="none" stroke="#c53a50" stroke-width="0.9"/>
<path d="M179.6 613.0 C227.6 663.0 272.5 663.0 304.5 613.0" fill="none" stroke="#c53a50" stroke-width="0.9"/>
<path d="M182.7 613.0 C232.7 661.0 272.5 661.0 304.5 613.0" fill="none" stroke="#c53a50" stroke-width="0.9"/>
<line x1="131.8" y1="612.8" x2="141" y2="612.8" stroke="#111" stroke-width="1.6"/>
<line x1="170" y1="612.8" x2="186.6" y2="612.8" stroke="#111" stroke-width="1.6"/>
<line x1="301.7" y1="612.8" x2="311" y2="612.8" stroke="#111" stroke-width="1.6"/>
<text x="34.6" y="635.2" font-size="6.6" text-anchor="start" fill="#222" font-weight="bold" font-style="normal" textLength="20.8" lengthAdjust="spacingAndGlyphs">HiChIP</text>
<text x="34.6" y="643.5" font-size="6.6" text-anchor="start" fill="#333" font-weight="normal" font-style="normal" textLength="26" lengthAdjust="spacingAndGlyphs">H3K27ac</text>
<text x="34.6" y="651.4" font-size="6.6" text-anchor="start" fill="#333" font-weight="normal" font-style="normal" textLength="22.4" lengthAdjust="spacingAndGlyphs">CUTLL1</text>
<line x1="136.3" y1="640.2" x2="136.3" y2="659.8" stroke="#1f3d6e" stroke-width="0.9"/>
<path d="M136.3 636.2 L139.0 643.0 L136.3 642.0 L133.60000000000002 643.0 Z" fill="#1a3a6a"/>
<line x1="304.8" y1="640.2" x2="304.8" y2="659.5" stroke="#1f3d6e" stroke-width="0.9"/>
<path d="M304.8 636.2 L307.5 643.0 L304.8 642.0 L302.1 643.0 Z" fill="#1a3a6a"/>
<text x="136.5" y="668.5" font-size="6.8" text-anchor="middle" fill="#222" font-weight="bold" font-style="normal" textLength="21" lengthAdjust="spacingAndGlyphs">cCRE 1</text>
<text x="305.2" y="668.5" font-size="6.8" text-anchor="middle" fill="#222" font-weight="bold" font-style="normal" textLength="21" lengthAdjust="spacingAndGlyphs">cCRE 2</text>
<text x="348.7" y="551" font-size="11" text-anchor="start" fill="#111" font-weight="bold" font-style="normal" stroke="#111" stroke-width="0.45">G</text>
<line x1="382.2" y1="555.2" x2="382.2" y2="667" stroke="#333" stroke-width="1.2"/>
<line x1="379.5" y1="557.8" x2="382.2" y2="557.8" stroke="#333" stroke-width="0.9"/>
<text x="377.4" y="560.1999999999999" font-size="6.8" text-anchor="end" fill="#333" font-weight="normal" font-style="normal">2</text>
<line x1="379.5" y1="593.9" x2="382.2" y2="593.9" stroke="#333" stroke-width="0.9"/>
<text x="377.4" y="596.3" font-size="6.8" text-anchor="end" fill="#333" font-weight="normal" font-style="normal">1</text>
<line x1="379.5" y1="630.0" x2="382.2" y2="630.0" stroke="#333" stroke-width="0.9"/>
<text x="377.4" y="632.4" font-size="6.8" text-anchor="end" fill="#333" font-weight="normal" font-style="normal">0</text>
<line x1="379.5" y1="666.1" x2="382.2" y2="666.1" stroke="#333" stroke-width="0.9"/>
<text x="377.4" y="668.5" font-size="6.8" text-anchor="end" fill="#333" font-weight="normal" font-style="normal">-1</text>
<line x1="382" y1="630" x2="485.5" y2="630" stroke="#222" stroke-width="1.3"/>
<line x1="442" y1="630" x2="442" y2="632" stroke="#333" stroke-width="0.8"/>
<line x1="482" y1="630" x2="482" y2="633" stroke="#333" stroke-width="0.8"/>
<text x="482" y="642" font-size="6.4" text-anchor="middle" fill="#333" font-weight="normal" font-style="normal" textLength="18.5" lengthAdjust="spacingAndGlyphs">20000</text>
<text x="363.8" y="612.8" font-size="7.4" text-anchor="middle" fill="#333" transform="rotate(-90 363.8 612.8)" textLength="17.5" lengthAdjust="spacingAndGlyphs">Score</text>
<path d="M383 611 C384 616 387 620 391.5 622.5 C395 624.5 399 625.2 403 626 C410 627.5 420 629.5 430 630.6 C445 632 462 635.5 474 639 C477.5 640.5 479 645 479.2 652 L479.3 667" fill="none" stroke="#c6c6c6" stroke-width="1.2"/>
<line x1="382.6" y1="559.5" x2="382.6" y2="563.5" stroke="#c02848" stroke-width="1.2"/>
<line x1="382.6" y1="596.3" x2="382.6" y2="598.6" stroke="#4a8a7a" stroke-width="1.2"/>
<line x1="382.6" y1="605.5" x2="382.6" y2="609.5" stroke="#c02848" stroke-width="1.2"/>
<text x="384" y="564" font-size="6.4" text-anchor="start" fill="#333" font-weight="normal" font-style="italic" textLength="13" lengthAdjust="spacingAndGlyphs">IRX3</text>
<text x="384.5" y="602.2" font-size="6.4" text-anchor="start" fill="#333" font-weight="normal" font-style="italic" textLength="13.2" lengthAdjust="spacingAndGlyphs">TLX3</text>
<text x="386.5" y="608.4" font-size="6.4" text-anchor="start" fill="#333" font-weight="normal" font-style="italic" textLength="12" lengthAdjust="spacingAndGlyphs">FTO</text>
<text x="387" y="614" font-size="6.4" text-anchor="start" fill="#333" font-weight="normal" font-style="italic" textLength="12.5" lengthAdjust="spacingAndGlyphs">IRX5</text>
</g>
</svg></body></html>
